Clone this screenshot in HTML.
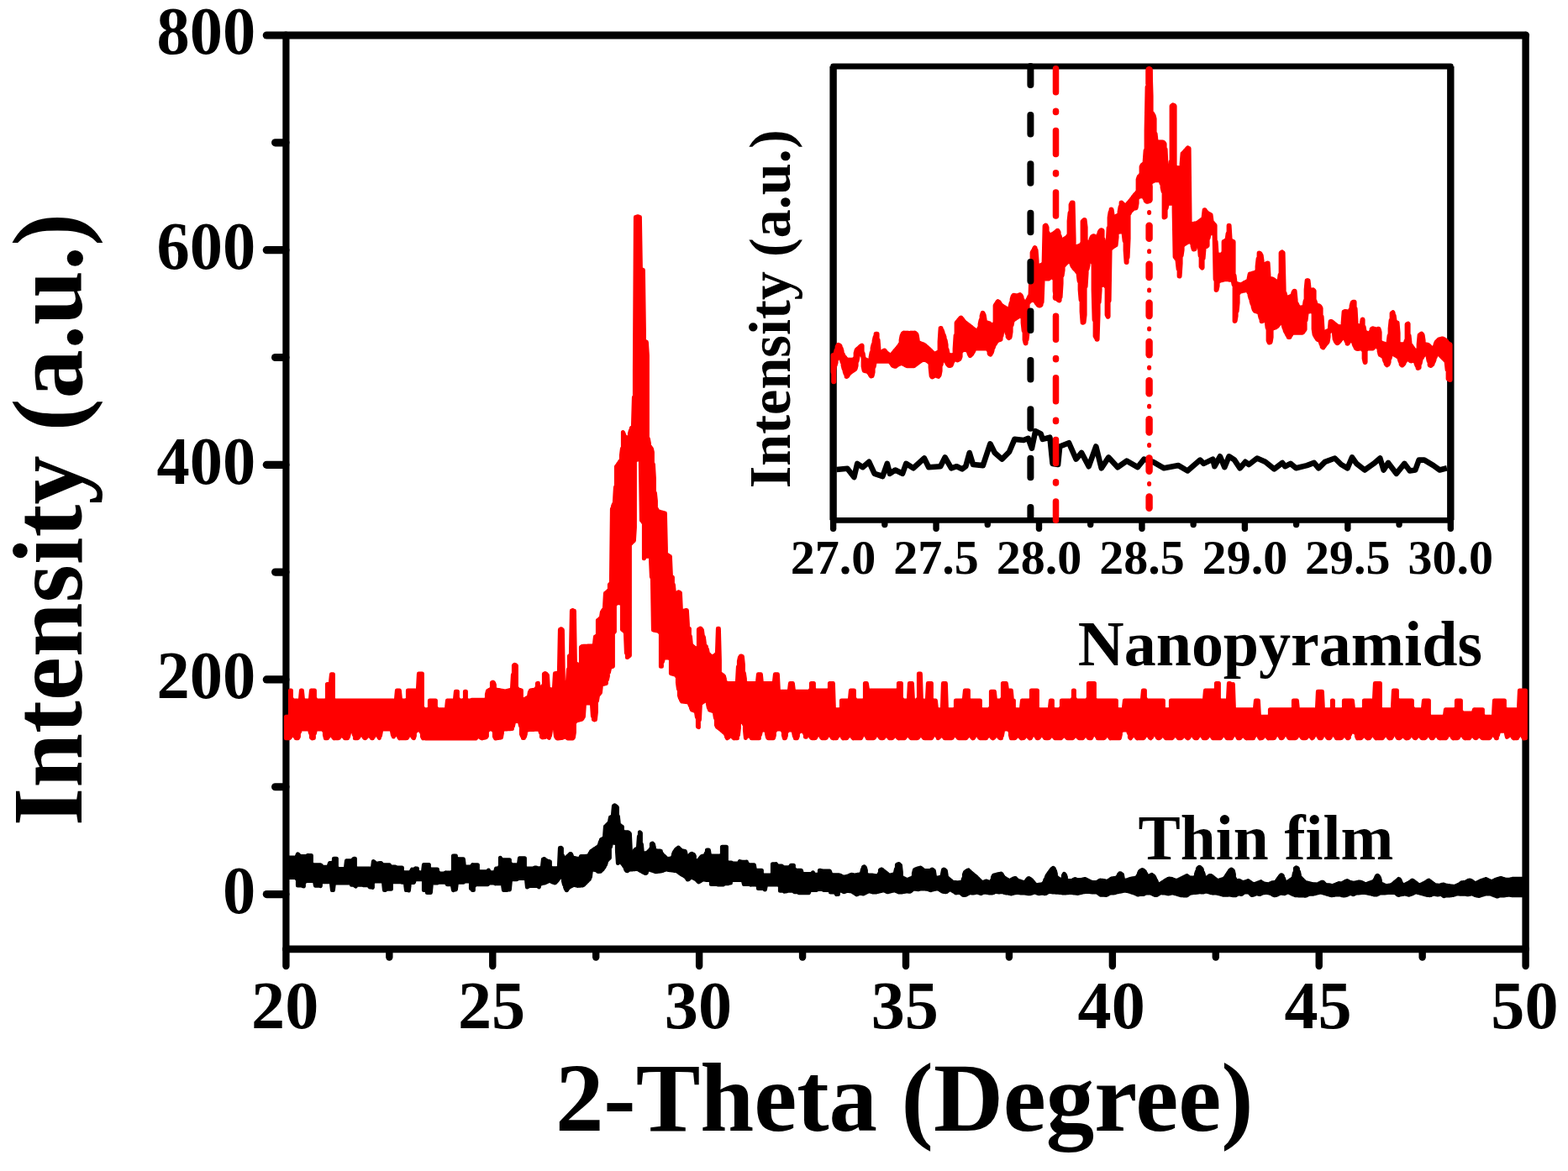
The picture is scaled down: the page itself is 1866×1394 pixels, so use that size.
<!DOCTYPE html>
<html lang="en"><head><meta charset="utf-8"><title>XRD pattern: Nanopyramids vs Thin film</title>
<style>html,body{margin:0;padding:0;background:#fff;}body{width:1866px;height:1394px;overflow:hidden;}svg{display:block;}text{font-family:"Liberation Serif",serif;font-weight:bold;fill:#000;}</style>
</head><body>
<svg width="1866" height="1394" viewBox="0 0 1866 1394" role="img" aria-label="XRD patterns of nanopyramids and thin film, with inset from 27 to 30 degrees">
<rect x="0" y="0" width="1866" height="1394" fill="#fff"/>
<g stroke="#000" stroke-width="8.40" fill="none" stroke-linecap="round" stroke-linejoin="round">
<line x1="340.40" y1="42.00" x2="1815.60" y2="42.00" stroke-width="9.0"/>
<line x1="340.40" y1="1129.80" x2="1815.60" y2="1129.80" stroke-width="8.8"/>
<line x1="340.40" y1="42.00" x2="340.40" y2="1129.80" stroke-width="8.2"/>
<line x1="1815.60" y1="42.00" x2="1815.60" y2="1129.80" stroke-width="8.4"/>
</g>
<g stroke="#000" stroke-width="9.2" fill="none" stroke-linecap="round">
<line x1="317.30" y1="1064.60" x2="339.90" y2="1064.60"/>
<line x1="327.60" y1="936.77" x2="339.90" y2="936.77"/>
<line x1="317.30" y1="808.95" x2="339.90" y2="808.95"/>
<line x1="327.60" y1="681.12" x2="339.90" y2="681.12"/>
<line x1="317.30" y1="553.30" x2="339.90" y2="553.30"/>
<line x1="327.60" y1="425.48" x2="339.90" y2="425.48"/>
<line x1="317.30" y1="297.65" x2="339.90" y2="297.65"/>
<line x1="327.60" y1="169.83" x2="339.90" y2="169.83"/>
<line x1="317.30" y1="42.00" x2="339.90" y2="42.00"/>
</g>
<g stroke="#000" stroke-width="8.4" fill="none" stroke-linecap="round">
<line x1="340.40" y1="1130.30" x2="340.40" y2="1150.00"/>
<line x1="463.33" y1="1130.30" x2="463.33" y2="1139.50"/>
<line x1="586.27" y1="1130.30" x2="586.27" y2="1150.00"/>
<line x1="709.20" y1="1130.30" x2="709.20" y2="1139.50"/>
<line x1="832.13" y1="1130.30" x2="832.13" y2="1150.00"/>
<line x1="955.07" y1="1130.30" x2="955.07" y2="1139.50"/>
<line x1="1078.00" y1="1130.30" x2="1078.00" y2="1150.00"/>
<line x1="1200.93" y1="1130.30" x2="1200.93" y2="1139.50"/>
<line x1="1323.87" y1="1130.30" x2="1323.87" y2="1150.00"/>
<line x1="1446.80" y1="1130.30" x2="1446.80" y2="1139.50"/>
<line x1="1569.73" y1="1130.30" x2="1569.73" y2="1150.00"/>
<line x1="1692.67" y1="1130.30" x2="1692.67" y2="1139.50"/>
<line x1="1815.60" y1="1130.30" x2="1815.60" y2="1150.00"/>
</g>
<path d="M340.4,853.3L340.4,878.8L341.4,878.8L341.4,853.3L342.4,853.3L342.4,878.8L343.4,878.8L343.4,853.2L344.4,852.5L344.4,878.8L345.4,877.8L345.4,822.1L346.4,822.1L346.4,876.2L347.4,875.3L347.4,832.1L348.4,833.6L348.4,875.0L349.4,875.1L349.4,833.9L350.4,833.9L350.4,875.7L351.4,877.3L351.4,833.9L352.4,833.9L352.4,878.8L353.4,878.8L353.4,833.9L354.4,833.9L354.4,878.8L355.4,877.0L355.4,833.9L356.4,833.8L356.4,871.6L357.4,868.9L357.4,833.1L358.4,822.1L358.4,868.2L359.4,868.1L359.4,822.1L360.4,832.1L360.4,868.1L361.4,868.1L361.4,833.6L362.4,833.9L362.4,868.1L363.4,868.1L363.4,833.9L364.4,833.9L364.4,868.1L365.4,868.1L365.4,833.9L366.4,833.9L366.4,868.1L367.4,868.2L367.4,833.9L368.4,833.7L368.4,868.9L369.4,872.6L369.4,832.8L370.4,822.1L370.4,877.9L371.4,878.8L371.4,822.1L372.4,822.1L372.4,878.8L373.4,878.6L373.4,822.1L374.4,822.1L374.4,873.2L375.4,869.2L375.4,832.1L376.4,833.6L376.4,868.3L377.4,868.1L377.4,833.9L378.4,833.9L378.4,868.1L379.4,868.1L379.4,833.9L380.4,833.9L380.4,868.1L381.4,868.1L381.4,833.9L382.4,833.9L382.4,868.1L383.4,868.1L383.4,833.9L384.4,833.9L384.4,868.4L385.4,869.9L385.4,833.9L386.4,833.9L386.4,874.9L387.4,878.8L387.4,833.8L388.4,833.1L388.4,878.8L389.4,878.8L389.4,814.6L390.4,814.6L390.4,877.7L391.4,876.2L391.4,814.6L392.4,814.2L392.4,875.3L393.4,875.0L393.4,812.8L394.4,802.7L394.4,875.3L395.4,876.0L395.4,802.7L396.4,802.7L396.4,877.5L397.4,878.8L397.4,833.1L398.4,833.8L398.4,878.8L399.4,878.8L399.4,833.9L400.4,833.9L400.4,878.8L401.4,878.8L401.4,833.9L402.4,833.9L402.4,878.8L403.4,878.4L403.4,833.9L404.4,833.9L404.4,877.1L405.4,876.1L405.4,833.9L406.4,833.9L406.4,875.7L407.4,875.8L407.4,833.9L408.4,833.9L408.4,876.3L409.4,877.5L409.4,833.9L410.4,833.9L410.4,878.7L411.4,878.8L411.4,833.9L412.4,833.9L412.4,878.8L413.4,878.8L413.4,833.9L414.4,833.9L414.4,877.5L415.4,873.2L415.4,833.9L416.4,833.9L416.4,870.9L417.4,870.3L417.4,833.9L418.4,833.9L418.4,870.2L419.4,870.5L419.4,833.9L420.4,833.9L420.4,871.4L421.4,874.8L421.4,833.9L422.4,833.9L422.4,878.8L423.4,878.8L423.4,833.9L424.4,833.9L424.4,878.8L425.4,878.8L425.4,833.9L426.4,833.9L426.4,878.1L427.4,876.4L427.4,833.9L428.4,833.9L428.4,874.9L429.4,874.4L429.4,833.9L430.4,833.9L430.4,874.4L431.4,874.9L431.4,833.9L432.4,833.9L432.4,876.3L433.4,878.1L433.4,833.9L434.4,833.9L434.4,878.8L435.4,878.3L435.4,833.9L436.4,833.9L436.4,877.0L437.4,875.8L437.4,833.9L438.4,833.9L438.4,875.5L439.4,875.6L439.4,833.9L440.4,833.9L440.4,876.1L441.4,877.3L441.4,833.9L442.4,833.9L442.4,878.7L443.4,878.8L443.4,833.9L444.4,833.9L444.4,877.5L445.4,875.8L445.4,833.9L446.4,833.9L446.4,874.8L447.4,874.4L447.4,833.9L448.4,833.9L448.4,874.6L449.4,875.2L449.4,833.9L450.4,833.9L450.4,876.9L451.4,878.6L451.4,833.9L452.4,833.9L452.4,876.1L453.4,870.7L453.4,833.9L454.4,833.9L454.4,868.6L455.4,868.1L455.4,833.9L456.4,833.9L456.4,868.1L457.4,868.1L457.4,833.9L458.4,833.9L458.4,868.1L459.4,868.1L459.4,833.9L460.4,833.9L460.4,868.1L461.4,868.1L461.4,833.9L462.4,833.9L462.4,868.1L463.4,868.1L463.4,833.9L464.4,833.9L464.4,868.1L465.4,868.6L465.4,833.9L466.4,833.9L466.4,870.0L467.4,875.4L467.4,833.9L468.4,833.9L468.4,877.0L469.4,875.2L469.4,833.9L470.4,833.8L470.4,874.2L471.4,874.0L471.4,833.1L472.4,822.1L472.4,874.2L473.4,875.2L473.4,822.1L474.4,822.1L474.4,877.0L475.4,878.8L475.4,822.1L476.4,832.1L476.4,878.8L477.4,878.8L477.4,833.6L478.4,833.9L478.4,878.8L479.4,878.8L479.4,833.9L480.4,833.9L480.4,878.8L481.4,878.8L481.4,833.9L482.4,833.9L482.4,878.8L483.4,878.8L483.4,833.7L484.4,832.8L484.4,878.5L485.4,876.9L485.4,822.1L486.4,822.1L486.4,875.5L487.4,874.8L487.4,822.1L488.4,822.1L488.4,874.7L489.4,875.1L489.4,822.1L490.4,822.1L490.4,876.3L491.4,877.9L491.4,822.1L492.4,822.1L492.4,878.8L493.4,876.0L493.4,822.1L494.4,822.1L494.4,871.1L495.4,869.7L495.4,822.1L496.4,821.9L496.4,869.2L497.4,869.1L497.4,820.9L498.4,802.1L498.4,869.1L499.4,869.2L499.4,802.1L500.4,802.1L500.4,869.7L501.4,871.8L501.4,802.1L502.4,802.1L502.4,876.6L503.4,878.8L503.4,842.9L504.4,844.3L504.4,878.8L505.4,878.8L505.4,844.7L506.4,844.7L506.4,878.9L507.4,878.9L507.4,844.7L508.4,844.7L508.4,878.9L509.4,878.9L509.4,844.5L510.4,843.5L510.4,878.9L511.4,878.9L511.4,833.9L512.4,833.9L512.4,878.9L513.4,878.9L513.4,833.9L514.4,833.9L514.4,878.9L515.4,878.9L515.4,833.9L516.4,833.9L516.4,878.9L517.4,878.9L517.4,833.9L518.4,833.9L518.4,878.9L519.4,878.9L519.4,842.9L520.4,844.3L520.4,878.9L521.4,878.9L521.4,844.7L522.4,844.7L522.4,878.9L523.4,878.9L523.4,844.7L524.4,844.7L524.4,878.9L525.4,878.9L525.4,844.7L526.4,844.7L526.4,878.9L527.4,878.9L527.4,844.7L528.4,844.7L528.4,878.9L529.4,878.9L529.4,844.7L530.4,844.6L530.4,878.9L531.4,879.0L531.4,844.1L532.4,833.9L532.4,879.0L533.4,879.0L533.4,833.9L534.4,833.9L534.4,879.0L535.4,879.0L535.4,833.9L536.4,833.9L536.4,879.0L537.4,879.0L537.4,833.9L538.4,833.9L538.4,879.0L539.4,879.0L539.4,833.9L540.4,833.8L540.4,879.0L541.4,879.0L541.4,833.1L542.4,823.2L542.4,879.0L543.4,879.0L543.4,823.2L544.4,823.2L544.4,879.0L545.4,879.0L545.4,832.1L546.4,833.6L546.4,879.0L547.4,879.0L547.4,833.9L548.4,833.9L548.4,879.0L549.4,879.0L549.4,833.9L550.4,833.9L550.4,879.0L551.4,879.0L551.4,833.7L552.4,832.8L552.4,879.0L553.4,879.0L553.4,823.2L554.4,823.2L554.4,879.0L555.4,879.0L555.4,833.1L556.4,833.8L556.4,879.1L557.4,879.1L557.4,833.9L558.4,833.9L558.4,879.1L559.4,879.1L559.4,833.9L560.4,833.8L560.4,879.1L561.4,879.1L561.4,833.3L562.4,833.3L562.4,879.1L563.4,879.1L563.4,833.3L564.4,833.3L564.4,879.1L565.4,879.1L565.4,833.3L566.4,833.3L566.4,878.9L567.4,877.3L567.4,833.3L568.4,833.3L568.4,876.7L569.4,876.6L569.4,833.3L570.4,833.3L570.4,876.9L571.4,877.6L571.4,833.3L572.4,833.3L572.4,878.3L573.4,878.9L573.4,833.3L574.4,833.3L574.4,878.7L575.4,878.4L575.4,833.3L576.4,833.3L576.4,878.2L577.4,878.0L577.4,833.2L578.4,832.5L578.4,877.7L579.4,876.5L579.4,826.7L580.4,822.5L580.4,869.9L581.4,868.5L581.4,821.7L582.4,821.3L582.4,868.1L583.4,868.1L583.4,820.9L584.4,820.0L584.4,868.1L585.4,868.1L585.4,812.6L586.4,812.2L586.4,868.5L587.4,869.9L587.4,812.5L588.4,815.2L588.4,876.7L589.4,878.8L589.4,820.3L590.4,821.0L590.4,878.9L591.4,878.7L591.4,821.2L592.4,821.4L592.4,878.6L593.4,878.5L593.4,821.5L594.4,821.7L594.4,878.3L595.4,878.2L595.4,821.9L596.4,822.1L596.4,878.1L597.4,872.7L597.4,822.3L598.4,822.5L598.4,868.9L599.4,868.2L599.4,822.7L600.4,822.9L600.4,868.1L601.4,868.0L601.4,823.0L602.4,822.8L602.4,868.0L603.4,867.9L603.4,822.5L604.4,822.2L604.4,867.8L605.4,867.8L605.4,821.9L606.4,821.6L606.4,867.7L607.4,867.7L607.4,821.3L608.4,821.0L608.4,867.6L609.4,867.6L609.4,820.3L610.4,803.2L610.4,864.6L611.4,860.2L611.4,792.1L612.4,791.3L612.4,858.8L613.4,858.4L613.4,791.5L614.4,792.5L614.4,858.4L615.4,858.4L615.4,819.3L616.4,820.7L616.4,858.4L617.4,858.5L617.4,821.1L618.4,821.4L618.4,859.2L619.4,863.9L619.4,821.6L620.4,821.9L620.4,873.9L621.4,876.4L621.4,831.4L622.4,832.4L622.4,878.4L623.4,878.4L623.4,832.6L624.4,832.4L624.4,877.2L625.4,873.5L625.4,831.8L626.4,831.2L626.4,870.0L627.4,869.1L627.4,830.7L628.4,830.1L628.4,868.7L629.4,868.7L629.4,829.4L630.4,823.8L630.4,868.6L631.4,868.6L631.4,821.9L632.4,821.7L632.4,868.5L633.4,868.5L633.4,821.5L634.4,821.4L634.4,868.4L635.4,868.4L635.4,821.2L636.4,821.0L636.4,868.3L637.4,868.3L637.4,820.7L638.4,819.2L638.4,868.2L639.4,868.2L639.4,813.4L640.4,813.3L640.4,868.1L641.4,868.2L641.4,816.6L642.4,820.3L642.4,868.9L643.4,872.2L643.4,820.8L644.4,820.8L644.4,877.2L645.4,877.8L645.4,820.3L646.4,816.0L646.4,877.8L647.4,877.8L647.4,802.2L648.4,801.7L648.4,877.5L649.4,876.7L649.4,801.8L650.4,802.5L650.4,876.5L651.4,876.7L651.4,803.7L652.4,819.3L652.4,877.6L653.4,878.4L653.4,820.2L654.4,820.5L654.4,876.1L655.4,870.1L655.4,820.7L656.4,820.9L656.4,866.6L657.4,865.9L657.4,821.0L658.4,820.8L658.4,865.8L659.4,866.2L659.4,819.9L660.4,801.8L660.4,867.6L661.4,876.6L661.4,801.6L662.4,801.3L662.4,878.4L663.4,878.9L663.4,801.1L664.4,800.7L664.4,878.9L665.4,878.8L665.4,799.3L666.4,749.6L666.4,878.7L667.4,878.6L667.4,748.7L668.4,749.0L668.4,878.5L669.4,878.3L669.4,750.0L670.4,810.9L670.4,877.8L671.4,877.3L671.4,811.8L672.4,812.2L672.4,877.2L673.4,877.4L673.4,812.6L674.4,812.4L674.4,878.1L675.4,878.9L675.4,811.8L676.4,796.7L676.4,879.1L677.4,879.1L677.4,780.9L678.4,780.3L678.4,879.1L679.4,879.1L679.4,779.3L680.4,727.0L680.4,879.1L681.4,879.1L681.4,726.5L682.4,726.8L682.4,878.0L683.4,871.8L683.4,727.2L684.4,788.4L684.4,859.6L685.4,858.1L685.4,789.9L686.4,790.5L686.4,857.7L687.4,857.5L687.4,791.2L688.4,791.4L688.4,857.2L689.4,857.0L689.4,791.2L690.4,790.3L690.4,856.7L691.4,856.5L691.4,770.4L692.4,769.6L692.4,856.2L693.4,855.0L693.4,769.4L694.4,769.3L694.4,853.3L695.4,838.9L695.4,769.3L696.4,769.2L696.4,837.5L697.4,837.1L697.4,769.2L698.4,769.2L698.4,837.1L699.4,837.1L699.4,769.1L700.4,769.1L700.4,837.1L701.4,837.1L701.4,769.0L702.4,769.0L702.4,837.1L703.4,837.2L703.4,768.9L704.4,768.9L704.4,837.9L705.4,852.7L705.4,768.8L706.4,768.5L706.4,856.5L707.4,856.9L707.4,767.0L708.4,758.1L708.4,856.6L709.4,847.7L709.4,757.6L710.4,756.7L710.4,834.5L711.4,828.6L711.4,738.5L712.4,737.7L712.4,827.0L713.4,825.8L713.4,736.8L714.4,735.9L714.4,824.6L715.4,816.3L715.4,734.9L716.4,728.5L716.4,814.9L717.4,814.5L717.4,726.9L718.4,725.7L718.4,814.3L719.4,814.0L719.4,724.5L720.4,706.3L720.4,813.8L721.4,813.6L721.4,705.4L722.4,704.6L722.4,809.3L723.4,804.9L723.4,703.7L724.4,702.7L724.4,800.6L725.4,796.3L725.4,696.0L726.4,694.9L726.4,794.4L727.4,793.9L727.4,694.3L728.4,605.7L728.4,793.6L729.4,793.3L729.4,602.9L730.4,600.1L730.4,753.0L731.4,751.9L731.4,597.3L732.4,580.1L732.4,719.6L733.4,718.1L733.4,555.5L734.4,554.1L734.4,717.8L735.4,717.8L735.4,552.7L736.4,551.3L736.4,717.8L737.4,717.8L737.4,549.8L738.4,548.4L738.4,717.9L739.4,718.6L739.4,542.0L740.4,534.0L740.4,749.3L741.4,750.2L741.4,514.4L742.4,516.7L742.4,751.0L743.4,751.9L743.4,518.9L744.4,520.8L744.4,752.9L745.4,777.4L745.4,521.5L746.4,521.6L746.4,782.6L747.4,782.0L747.4,521.2L748.4,519.8L748.4,781.2L749.4,780.3L749.4,516.1L750.4,512.4L750.4,647.5L751.4,646.5L751.4,509.2L752.4,508.8L752.4,645.6L753.4,644.6L753.4,508.2L754.4,473.0L754.4,643.6L755.4,627.9L755.4,440.1L756.4,258.5L756.4,548.2L757.4,547.3L757.4,258.1L758.4,257.8L758.4,547.1L759.4,547.1L759.4,257.7L760.4,258.1L760.4,547.1L761.4,547.6L761.4,258.4L762.4,319.5L762.4,553.6L763.4,619.4L763.4,320.4L764.4,320.9L764.4,620.4L765.4,622.0L765.4,321.5L766.4,392.2L766.4,664.8L767.4,663.0L767.4,406.1L768.4,406.7L768.4,662.4L769.4,662.2L769.4,407.3L770.4,423.2L770.4,662.2L771.4,662.2L771.4,522.2L772.4,527.6L772.4,662.3L773.4,662.6L773.4,531.4L774.4,532.8L774.4,664.1L775.4,687.0L775.4,534.1L776.4,538.4L776.4,688.5L777.4,749.9L777.4,552.7L778.4,569.4L778.4,750.2L779.4,750.4L779.4,586.7L780.4,596.2L780.4,750.6L781.4,750.8L781.4,605.7L782.4,608.2L782.4,751.1L783.4,751.3L783.4,608.7L784.4,609.0L784.4,751.7L785.4,753.1L785.4,609.3L786.4,609.6L786.4,793.3L787.4,793.3L787.4,609.9L788.4,610.2L788.4,788.0L789.4,783.8L789.4,610.5L790.4,610.8L790.4,783.1L791.4,783.0L791.4,611.1L792.4,653.4L792.4,783.0L793.4,783.0L793.4,660.0L794.4,660.6L794.4,783.0L795.4,783.0L795.4,661.2L796.4,661.8L796.4,783.2L797.4,784.1L797.4,662.4L798.4,685.1L798.4,801.7L799.4,802.0L799.4,686.6L800.4,687.0L800.4,802.2L801.4,802.5L801.4,696.1L802.4,705.9L802.4,802.8L803.4,803.1L803.4,706.6L804.4,706.7L804.4,803.6L805.4,805.0L805.4,706.3L806.4,705.6L806.4,812.6L807.4,820.2L807.4,704.8L808.4,704.9L808.4,827.8L809.4,831.1L809.4,705.7L810.4,726.3L810.4,833.3L811.4,834.9L811.4,727.3L812.4,727.5L812.4,835.1L813.4,835.2L813.4,727.3L814.4,727.0L814.4,835.3L815.4,835.4L815.4,726.6L816.4,726.4L816.4,835.6L817.4,835.7L817.4,726.7L818.4,743.4L818.4,835.8L819.4,836.2L819.4,747.7L820.4,748.5L820.4,837.5L821.4,840.1L821.4,757.4L822.4,767.5L822.4,842.8L823.4,845.0L823.4,768.4L824.4,769.3L824.4,845.4L825.4,845.8L825.4,770.1L826.4,771.0L826.4,846.2L827.4,846.6L827.4,771.8L828.4,772.0L828.4,847.3L829.4,853.8L829.4,771.8L830.4,770.8L830.4,865.1L831.4,865.7L831.4,749.2L832.4,748.6L832.4,857.1L833.4,838.4L833.4,748.0L834.4,748.5L834.4,837.1L835.4,836.4L835.4,749.9L836.4,757.4L836.4,835.8L837.4,835.1L837.4,758.3L838.4,766.0L838.4,834.5L839.4,834.1L839.4,769.0L840.4,769.6L840.4,834.2L841.4,834.9L841.4,772.7L842.4,777.8L842.4,838.0L843.4,842.8L843.4,778.7L844.4,779.6L844.4,845.1L845.4,845.5L845.4,780.4L846.4,781.2L846.4,845.8L847.4,846.1L847.4,781.6L848.4,781.6L848.4,846.5L849.4,846.9L849.4,781.1L850.4,780.3L850.4,848.3L851.4,855.0L851.4,779.5L852.4,778.6L852.4,863.0L853.4,865.4L853.4,777.8L854.4,748.3L854.4,866.1L855.4,866.9L855.4,748.2L856.4,785.9L856.4,867.6L857.4,868.5L857.4,801.8L858.4,802.5L858.4,869.3L859.4,870.1L859.4,803.2L860.4,803.9L860.4,871.0L861.4,871.8L861.4,804.7L862.4,808.4L862.4,872.6L863.4,874.0L863.4,811.8L864.4,813.2L864.4,876.9L865.4,878.8L865.4,813.5L866.4,813.5L866.4,878.2L867.4,877.1L867.4,813.5L868.4,813.5L868.4,876.2L869.4,876.0L869.4,813.5L870.4,813.5L870.4,876.2L871.4,876.9L871.4,813.5L872.4,813.5L872.4,878.0L873.4,878.8L873.4,813.5L874.4,813.5L874.4,878.8L875.4,878.8L875.4,813.5L876.4,813.2L876.4,878.8L877.4,878.8L877.4,811.7L878.4,793.7L878.4,875.3L879.4,866.9L879.4,787.0L880.4,782.5L880.4,860.3L881.4,858.8L881.4,781.0L882.4,780.9L882.4,858.4L883.4,858.6L883.4,781.6L884.4,791.2L884.4,859.2L885.4,862.2L885.4,801.3L886.4,808.0L886.4,868.8L887.4,878.4L887.4,812.4L888.4,813.3L888.4,877.1L889.4,876.0L889.4,813.5L890.4,813.5L890.4,875.7L891.4,875.8L891.4,813.5L892.4,813.5L892.4,876.3L893.4,877.5L893.4,813.5L894.4,813.5L894.4,878.8L895.4,878.8L895.4,813.5L896.4,813.5L896.4,878.8L897.4,878.8L897.4,813.5L898.4,813.5L898.4,878.8L899.4,878.8L899.4,813.5L900.4,813.3L900.4,878.8L901.4,878.8L901.4,812.4L902.4,802.7L902.4,878.8L903.4,878.8L903.4,802.7L904.4,802.7L904.4,874.9L905.4,870.6L905.4,802.7L906.4,812.9L906.4,869.5L907.4,869.2L907.4,813.4L908.4,813.5L908.4,869.1L909.4,869.1L909.4,813.5L910.4,813.5L910.4,869.3L911.4,870.0L911.4,813.5L912.4,813.5L912.4,872.9L913.4,877.7L913.4,813.5L914.4,813.5L914.4,878.8L915.4,878.8L915.4,813.5L916.4,813.5L916.4,878.8L917.4,878.8L917.4,813.5L918.4,813.5L918.4,878.8L919.4,878.8L919.4,813.5L920.4,813.1L920.4,878.8L921.4,875.4L921.4,811.7L922.4,802.7L922.4,870.0L923.4,868.5L923.4,802.7L924.4,802.7L924.4,868.1L925.4,868.1L925.4,802.7L926.4,822.4L926.4,868.1L927.4,868.1L927.4,823.1L928.4,823.2L928.4,868.1L929.4,868.1L929.4,823.2L930.4,823.2L930.4,868.6L931.4,870.0L931.4,823.2L932.4,823.2L932.4,875.4L933.4,878.8L933.4,823.2L934.4,823.2L934.4,878.8L935.4,875.8L935.4,823.2L936.4,823.2L936.4,871.0L937.4,869.5L937.4,823.2L938.4,823.0L938.4,869.2L939.4,869.1L939.4,822.0L940.4,813.5L940.4,869.1L941.4,869.1L941.4,813.5L942.4,813.5L942.4,869.2L943.4,869.7L943.4,813.5L944.4,822.0L944.4,871.5L945.4,876.4L945.4,823.0L946.4,823.2L946.4,878.8L947.4,878.8L947.4,823.2L948.4,823.2L948.4,878.8L949.4,876.3L949.4,823.2L950.4,823.2L950.4,872.0L951.4,870.6L951.4,823.2L952.4,823.2L952.4,870.2L953.4,870.2L953.4,823.2L954.4,823.2L954.4,870.2L955.4,870.3L955.4,823.2L956.4,823.2L956.4,870.8L957.4,872.9L957.4,823.2L958.4,823.2L958.4,877.2L959.4,877.3L959.4,823.2L960.4,823.2L960.4,875.8L961.4,875.1L961.4,823.2L962.4,823.2L962.4,875.0L963.4,875.4L963.4,822.8L964.4,821.4L964.4,876.5L965.4,878.0L965.4,813.5L966.4,813.5L966.4,878.8L967.4,878.8L967.4,813.5L968.4,813.5L968.4,878.8L969.4,878.8L969.4,821.3L970.4,822.0L970.4,878.4L971.4,876.7L971.4,822.1L972.4,822.1L972.4,875.1L973.4,874.4L973.4,822.1L974.4,822.1L974.4,874.3L975.4,874.7L975.4,822.1L976.4,822.1L976.4,875.9L977.4,877.7L977.4,822.1L978.4,822.1L978.4,878.8L979.4,878.8L979.4,822.1L980.4,822.1L980.4,878.8L981.4,878.8L981.4,822.1L982.4,822.1L982.4,878.8L983.4,878.1L983.4,822.1L984.4,822.1L984.4,876.4L985.4,875.2L985.4,822.0L986.4,821.3L986.4,874.9L987.4,874.9L987.4,813.5L988.4,813.5L988.4,875.4L989.4,876.8L989.4,813.5L990.4,813.5L990.4,878.4L991.4,878.8L991.4,813.5L992.4,844.1L992.4,878.8L993.4,878.8L993.4,844.6L994.4,844.7L994.4,878.8L995.4,878.8L995.4,844.7L996.4,844.7L996.4,877.2L997.4,875.6L997.4,844.7L998.4,844.7L998.4,875.0L999.4,874.8L999.4,844.6L1000.4,843.9L1000.4,875.0L1001.4,875.9L1001.4,833.9L1002.4,833.9L1002.4,877.6L1003.4,878.8L1003.4,833.9L1004.4,833.9L1004.4,878.8L1005.4,878.8L1005.4,833.9L1006.4,833.9L1006.4,878.8L1007.4,878.8L1007.4,833.9L1008.4,833.9L1008.4,877.8L1009.4,876.5L1009.4,833.9L1010.4,833.7L1010.4,875.6L1011.4,875.4L1011.4,832.8L1012.4,822.1L1012.4,875.6L1013.4,876.5L1013.4,822.1L1014.4,822.1L1014.4,877.8L1015.4,878.8L1015.4,822.1L1016.4,822.1L1016.4,878.8L1017.4,878.8L1017.4,832.1L1018.4,833.6L1018.4,878.8L1019.4,878.8L1019.4,833.9L1020.4,833.9L1020.4,878.8L1021.4,878.8L1021.4,833.9L1022.4,833.9L1022.4,878.8L1023.4,878.8L1023.4,833.9L1024.4,833.9L1024.4,878.8L1025.4,877.0L1025.4,833.9L1026.4,833.9L1026.4,875.1L1027.4,874.2L1027.4,833.8L1028.4,833.1L1028.4,874.0L1029.4,874.2L1029.4,813.5L1030.4,813.5L1030.4,875.1L1031.4,877.0L1031.4,813.5L1032.4,820.3L1032.4,878.8L1033.4,878.8L1033.4,821.7L1034.4,822.1L1034.4,878.8L1035.4,878.8L1035.4,822.1L1036.4,822.1L1036.4,878.8L1037.4,878.8L1037.4,822.1L1038.4,822.1L1038.4,878.8L1039.4,878.8L1039.4,822.1L1040.4,822.1L1040.4,878.2L1041.4,876.6L1041.4,822.1L1042.4,822.1L1042.4,875.1L1043.4,874.6L1043.4,822.1L1044.4,822.1L1044.4,874.6L1045.4,875.1L1045.4,822.1L1046.4,822.1L1046.4,876.4L1047.4,878.1L1047.4,822.1L1048.4,822.1L1048.4,878.8L1049.4,878.8L1049.4,822.1L1050.4,822.1L1050.4,878.8L1051.4,878.4L1051.4,822.1L1052.4,822.1L1052.4,877.1L1053.4,876.0L1053.4,822.1L1054.4,822.1L1054.4,875.7L1055.4,875.7L1055.4,822.1L1056.4,822.1L1056.4,876.2L1057.4,877.4L1057.4,822.1L1058.4,822.1L1058.4,878.7L1059.4,878.8L1059.4,822.1L1060.4,822.1L1060.4,878.8L1061.4,878.8L1061.4,822.1L1062.4,822.1L1062.4,878.0L1063.4,876.9L1063.4,822.1L1064.4,822.1L1064.4,876.0L1065.4,875.8L1065.4,822.1L1066.4,822.1L1066.4,876.0L1067.4,876.9L1067.4,821.9L1068.4,820.9L1068.4,878.1L1069.4,878.8L1069.4,813.5L1070.4,813.5L1070.4,878.8L1071.4,878.8L1071.4,813.5L1072.4,813.5L1072.4,878.8L1073.4,878.8L1073.4,832.1L1074.4,833.6L1074.4,878.8L1075.4,878.8L1075.4,833.9L1076.4,833.9L1076.4,878.8L1077.4,877.5L1077.4,833.9L1078.4,833.9L1078.4,876.1L1079.4,875.4L1079.4,833.9L1080.4,833.7L1080.4,875.3L1081.4,875.5L1081.4,832.8L1082.4,813.5L1082.4,876.5L1083.4,877.9L1083.4,813.5L1084.4,813.5L1084.4,878.8L1085.4,878.8L1085.4,813.5L1086.4,832.8L1086.4,878.8L1087.4,878.8L1087.4,833.7L1088.4,833.9L1088.4,878.8L1089.4,878.8L1089.4,833.9L1090.4,833.9L1090.4,878.8L1091.4,878.8L1091.4,833.6L1092.4,832.1L1092.4,878.4L1093.4,877.0L1093.4,802.1L1094.4,802.1L1094.4,875.7L1095.4,875.2L1095.4,802.1L1096.4,833.1L1096.4,875.2L1097.4,875.7L1097.4,833.8L1098.4,833.9L1098.4,877.0L1099.4,878.4L1099.4,833.9L1100.4,833.9L1100.4,878.8L1101.4,878.8L1101.4,833.9L1102.4,833.9L1102.4,878.8L1103.4,878.8L1103.4,833.4L1104.4,813.5L1104.4,878.8L1105.4,878.8L1105.4,813.5L1106.4,813.5L1106.4,878.8L1107.4,878.8L1107.4,813.5L1108.4,813.5L1108.4,878.8L1109.4,877.4L1109.4,833.1L1110.4,833.8L1110.4,875.6L1111.4,874.7L1111.4,833.9L1112.4,833.9L1112.4,874.5L1113.4,874.6L1113.4,833.9L1114.4,843.5L1114.4,875.3L1115.4,876.9L1115.4,844.5L1116.4,844.7L1116.4,878.7L1117.4,878.1L1117.4,844.7L1118.4,844.7L1118.4,876.8L1119.4,875.9L1119.4,844.7L1120.4,844.3L1120.4,875.7L1121.4,875.8L1121.4,842.9L1122.4,813.5L1122.4,876.5L1123.4,877.7L1123.4,813.5L1124.4,813.5L1124.4,878.8L1125.4,878.8L1125.4,813.5L1126.4,843.5L1126.4,878.8L1127.4,878.8L1127.4,844.5L1128.4,844.7L1128.4,878.8L1129.4,878.8L1129.4,844.7L1130.4,844.7L1130.4,878.8L1131.4,878.8L1131.4,844.7L1132.4,844.7L1132.4,878.8L1133.4,878.1L1133.4,844.7L1134.4,844.7L1134.4,876.6L1135.4,875.5L1135.4,844.5L1136.4,843.5L1136.4,875.1L1137.4,875.2L1137.4,833.9L1138.4,833.9L1138.4,875.8L1139.4,877.2L1139.4,833.9L1140.4,833.9L1140.4,878.6L1141.4,878.8L1141.4,833.9L1142.4,833.9L1142.4,878.8L1143.4,878.8L1143.4,833.9L1144.4,833.9L1144.4,878.8L1145.4,878.8L1145.4,833.9L1146.4,833.6L1146.4,878.8L1147.4,878.8L1147.4,832.1L1148.4,822.1L1148.4,878.8L1149.4,878.8L1149.4,822.1L1150.4,822.1L1150.4,877.9L1151.4,876.5L1151.4,822.1L1152.4,822.1L1152.4,875.6L1153.4,875.3L1153.4,833.1L1154.4,833.8L1154.4,875.4L1155.4,876.1L1155.4,833.9L1156.4,833.9L1156.4,877.5L1157.4,878.8L1157.4,833.9L1158.4,833.9L1158.4,878.7L1159.4,877.1L1159.4,833.9L1160.4,833.9L1160.4,875.6L1161.4,874.9L1161.4,833.9L1162.4,833.9L1162.4,874.8L1163.4,875.1L1163.4,833.9L1164.4,833.9L1164.4,876.2L1165.4,877.8L1165.4,833.9L1166.4,833.9L1166.4,878.8L1167.4,878.8L1167.4,843.9L1168.4,844.6L1168.4,878.8L1169.4,878.8L1169.4,844.7L1170.4,844.7L1170.4,878.8L1171.4,878.8L1171.4,844.7L1172.4,844.7L1172.4,878.8L1173.4,878.8L1173.4,844.7L1174.4,844.7L1174.4,877.6L1175.4,876.3L1175.4,844.7L1176.4,844.7L1176.4,875.6L1177.4,875.5L1177.4,844.3L1178.4,842.9L1178.4,875.8L1179.4,876.8L1179.4,823.2L1180.4,823.2L1180.4,878.1L1181.4,878.8L1181.4,823.2L1182.4,823.2L1182.4,878.6L1183.4,877.2L1183.4,823.2L1184.4,832.8L1184.4,875.9L1185.4,875.4L1185.4,833.7L1186.4,833.9L1186.4,875.4L1187.4,875.9L1187.4,833.9L1188.4,833.9L1188.4,877.0L1189.4,878.3L1189.4,833.9L1190.4,833.9L1190.4,878.8L1191.4,878.8L1191.4,833.6L1192.4,832.1L1192.4,876.0L1193.4,870.6L1193.4,813.5L1194.4,813.5L1194.4,868.6L1195.4,868.1L1195.4,813.5L1196.4,813.5L1196.4,868.1L1197.4,868.1L1197.4,813.5L1198.4,820.9L1198.4,868.1L1199.4,868.1L1199.4,821.9L1200.4,822.1L1200.4,868.4L1201.4,869.9L1201.4,822.1L1202.4,822.1L1202.4,875.2L1203.4,878.8L1203.4,822.1L1204.4,833.4L1204.4,878.8L1205.4,878.8L1205.4,833.9L1206.4,833.9L1206.4,878.8L1207.4,878.8L1207.4,844.1L1208.4,844.6L1208.4,878.1L1209.4,876.9L1209.4,844.7L1210.4,844.7L1210.4,876.0L1211.4,875.8L1211.4,844.7L1212.4,844.7L1212.4,876.0L1213.4,876.7L1213.4,844.7L1214.4,844.6L1214.4,877.9L1215.4,878.8L1215.4,844.1L1216.4,833.9L1216.4,878.8L1217.4,878.8L1217.4,833.9L1218.4,833.9L1218.4,878.4L1219.4,877.2L1219.4,833.9L1220.4,833.9L1220.4,876.1L1221.4,875.8L1221.4,833.9L1222.4,833.9L1222.4,875.9L1223.4,876.5L1223.4,833.9L1224.4,833.9L1224.4,877.7L1225.4,878.8L1225.4,833.8L1226.4,833.1L1226.4,878.7L1227.4,876.9L1227.4,822.1L1228.4,822.1L1228.4,875.3L1229.4,874.6L1229.4,822.1L1230.4,822.1L1230.4,874.5L1231.4,874.8L1231.4,822.1L1232.4,822.1L1232.4,875.8L1233.4,877.5L1233.4,822.1L1234.4,822.1L1234.4,878.8L1235.4,878.8L1235.4,844.1L1236.4,844.6L1236.4,878.2L1237.4,876.6L1237.4,844.7L1238.4,844.7L1238.4,875.4L1239.4,875.0L1239.4,844.7L1240.4,844.7L1240.4,875.0L1241.4,875.5L1241.4,844.7L1242.4,844.7L1242.4,876.9L1243.4,878.4L1243.4,844.7L1244.4,844.7L1244.4,878.8L1245.4,878.8L1245.4,844.7L1246.4,844.7L1246.4,878.8L1247.4,878.8L1247.4,844.7L1248.4,844.3L1248.4,878.5L1249.4,877.2L1249.4,842.9L1250.4,833.9L1250.4,876.2L1251.4,875.7L1251.4,833.9L1252.4,833.9L1252.4,875.7L1253.4,876.2L1253.4,843.5L1254.4,844.5L1254.4,877.4L1255.4,878.6L1255.4,844.7L1256.4,844.7L1256.4,878.8L1257.4,878.8L1257.4,844.7L1258.4,844.7L1258.4,878.8L1259.4,878.8L1259.4,844.7L1260.4,844.7L1260.4,878.8L1261.4,878.8L1261.4,844.3L1262.4,842.9L1262.4,878.8L1263.4,878.0L1263.4,833.9L1264.4,833.9L1264.4,876.8L1265.4,875.9L1265.4,833.9L1266.4,833.9L1266.4,875.7L1267.4,875.9L1267.4,833.9L1268.4,833.9L1268.4,876.7L1269.4,878.0L1269.4,833.9L1270.4,833.9L1270.4,878.8L1271.4,878.8L1271.4,833.9L1272.4,833.9L1272.4,878.8L1273.4,878.8L1273.4,833.9L1274.4,833.9L1274.4,878.8L1275.4,878.8L1275.4,833.6L1276.4,832.1L1276.4,878.8L1277.4,877.8L1277.4,822.1L1278.4,822.1L1278.4,876.6L1279.4,875.9L1279.4,832.1L1280.4,833.6L1280.4,875.8L1281.4,876.1L1281.4,833.9L1282.4,833.9L1282.4,877.0L1283.4,878.2L1283.4,833.9L1284.4,833.9L1284.4,878.8L1285.4,878.8L1285.4,833.9L1286.4,833.9L1286.4,878.8L1287.4,878.8L1287.4,833.9L1288.4,833.9L1288.4,878.7L1289.4,877.4L1289.4,833.9L1290.4,833.9L1290.4,876.2L1291.4,875.7L1291.4,833.9L1292.4,833.9L1292.4,875.7L1293.4,876.0L1293.4,833.6L1294.4,832.1L1294.4,877.1L1295.4,878.4L1295.4,813.5L1296.4,813.5L1296.4,878.8L1297.4,878.8L1297.4,813.5L1298.4,813.5L1298.4,878.8L1299.4,877.1L1299.4,813.5L1300.4,813.5L1300.4,875.2L1301.4,874.3L1301.4,813.5L1302.4,813.5L1302.4,874.1L1303.4,874.3L1303.4,832.8L1304.4,833.7L1304.4,875.2L1305.4,876.9L1305.4,833.9L1306.4,833.9L1306.4,878.8L1307.4,878.8L1307.4,833.9L1308.4,833.9L1308.4,878.8L1309.4,878.8L1309.4,833.9L1310.4,833.9L1310.4,878.8L1311.4,878.8L1311.4,833.9L1312.4,833.9L1312.4,878.8L1313.4,878.8L1313.4,833.9L1314.4,833.9L1314.4,878.2L1315.4,876.8L1315.4,833.9L1316.4,833.9L1316.4,875.7L1317.4,875.4L1317.4,833.9L1318.4,833.9L1318.4,875.5L1319.4,876.2L1319.4,833.9L1320.4,833.9L1320.4,877.4L1321.4,878.8L1321.4,833.9L1322.4,833.9L1322.4,878.8L1323.4,878.8L1323.4,833.9L1324.4,833.9L1324.4,878.8L1325.4,878.8L1325.4,833.9L1326.4,833.9L1326.4,878.8L1327.4,878.8L1327.4,833.9L1328.4,833.9L1328.4,878.8L1329.4,878.8L1329.4,843.9L1330.4,844.6L1330.4,878.8L1331.4,878.8L1331.4,844.7L1332.4,844.7L1332.4,878.8L1333.4,874.2L1333.4,844.7L1334.4,844.7L1334.4,870.3L1335.4,869.4L1335.4,844.7L1336.4,844.3L1336.4,869.1L1337.4,869.1L1337.4,842.9L1338.4,833.9L1338.4,869.1L1339.4,869.1L1339.4,833.9L1340.4,833.9L1340.4,869.1L1341.4,869.3L1341.4,833.9L1342.4,833.9L1342.4,870.0L1343.4,872.8L1343.4,833.9L1344.4,833.9L1344.4,877.7L1345.4,878.8L1345.4,833.9L1346.4,833.9L1346.4,877.5L1347.4,876.1L1347.4,833.9L1348.4,833.9L1348.4,875.4L1349.4,875.3L1349.4,833.9L1350.4,833.9L1350.4,875.6L1351.4,876.5L1351.4,833.9L1352.4,833.9L1352.4,877.9L1353.4,878.8L1353.4,833.9L1354.4,833.9L1354.4,878.8L1355.4,878.8L1355.4,833.9L1356.4,833.9L1356.4,878.8L1357.4,878.8L1357.4,833.9L1358.4,833.8L1358.4,878.8L1359.4,878.8L1359.4,833.1L1360.4,822.1L1360.4,878.8L1361.4,878.3L1361.4,822.1L1362.4,822.1L1362.4,876.7L1363.4,875.2L1363.4,832.1L1364.4,833.6L1364.4,874.7L1365.4,874.7L1365.4,833.9L1366.4,833.9L1366.4,875.2L1367.4,876.6L1367.4,833.9L1368.4,833.9L1368.4,878.2L1369.4,878.8L1369.4,833.9L1370.4,833.9L1370.4,877.8L1371.4,875.9L1371.4,833.9L1372.4,833.9L1372.4,874.6L1373.4,874.1L1373.4,833.9L1374.4,833.9L1374.4,874.1L1375.4,874.6L1375.4,833.9L1376.4,833.9L1376.4,876.2L1377.4,878.1L1377.4,833.9L1378.4,833.9L1378.4,878.8L1379.4,878.8L1379.4,833.9L1380.4,833.9L1380.4,878.3L1381.4,877.0L1381.4,833.9L1382.4,833.9L1382.4,875.9L1383.4,875.6L1383.4,833.9L1384.4,833.9L1384.4,875.7L1385.4,876.2L1385.4,843.9L1386.4,844.6L1386.4,877.4L1387.4,878.7L1387.4,844.7L1388.4,844.7L1388.4,878.8L1389.4,878.8L1389.4,844.7L1390.4,844.7L1390.4,878.8L1391.4,878.8L1391.4,844.6L1392.4,844.1L1392.4,878.8L1393.4,878.8L1393.4,833.9L1394.4,833.9L1394.4,878.8L1395.4,878.2L1395.4,833.9L1396.4,833.9L1396.4,876.8L1397.4,875.7L1397.4,833.9L1398.4,833.9L1398.4,875.4L1399.4,875.5L1399.4,833.9L1400.4,833.9L1400.4,876.1L1401.4,877.4L1401.4,833.9L1402.4,833.9L1402.4,878.7L1403.4,878.8L1403.4,833.9L1404.4,833.9L1404.4,878.8L1405.4,878.8L1405.4,833.9L1406.4,833.9L1406.4,878.0L1407.4,876.9L1407.4,833.9L1408.4,833.9L1408.4,876.0L1409.4,875.8L1409.4,833.9L1410.4,833.9L1410.4,876.0L1411.4,876.9L1411.4,833.9L1412.4,833.9L1412.4,878.1L1413.4,878.8L1413.4,833.9L1414.4,833.9L1414.4,878.7L1415.4,877.2L1415.4,833.9L1416.4,833.9L1416.4,875.6L1417.4,874.9L1417.4,833.9L1418.4,833.9L1418.4,874.8L1419.4,875.2L1419.4,833.9L1420.4,833.9L1420.4,876.3L1421.4,877.8L1421.4,833.9L1422.4,833.9L1422.4,878.8L1423.4,878.8L1423.4,833.9L1424.4,833.9L1424.4,878.8L1425.4,877.4L1425.4,833.9L1426.4,833.9L1426.4,875.9L1427.4,875.0L1427.4,833.9L1428.4,833.9L1428.4,874.8L1429.4,875.0L1429.4,833.9L1430.4,833.9L1430.4,875.9L1431.4,877.5L1431.4,833.9L1432.4,833.9L1432.4,878.8L1433.4,878.8L1433.4,833.4L1434.4,822.1L1434.4,878.8L1435.4,878.8L1435.4,822.1L1436.4,822.1L1436.4,878.1L1437.4,876.6L1437.4,822.1L1438.4,822.1L1438.4,875.5L1439.4,875.1L1439.4,822.1L1440.4,822.1L1440.4,875.2L1441.4,875.8L1441.4,822.1L1442.4,822.1L1442.4,877.2L1443.4,878.7L1443.4,822.1L1444.4,822.1L1444.4,878.8L1445.4,878.8L1445.4,822.1L1446.4,821.5L1446.4,878.8L1447.4,878.8L1447.4,813.5L1448.4,813.5L1448.4,878.8L1449.4,878.8L1449.4,813.5L1450.4,813.5L1450.4,878.8L1451.4,878.8L1451.4,833.4L1452.4,833.9L1452.4,878.8L1453.4,877.5L1453.4,833.9L1454.4,833.9L1454.4,876.1L1455.4,875.3L1455.4,833.9L1456.4,833.9L1456.4,875.0L1457.4,875.3L1457.4,833.9L1458.4,833.9L1458.4,876.2L1459.4,877.7L1459.4,833.9L1460.4,833.9L1460.4,878.8L1461.4,878.8L1461.4,833.4L1462.4,813.5L1462.4,878.8L1463.4,878.8L1463.4,813.5L1464.4,813.8L1464.4,878.8L1465.4,878.8L1465.4,814.4L1466.4,814.6L1466.4,877.4L1467.4,875.6L1467.4,814.6L1468.4,842.9L1468.4,874.6L1469.4,874.4L1469.4,844.3L1470.4,844.7L1470.4,874.6L1471.4,875.2L1471.4,844.7L1472.4,844.7L1472.4,876.9L1473.4,878.7L1473.4,844.7L1474.4,844.7L1474.4,878.8L1475.4,878.8L1475.4,844.7L1476.4,844.7L1476.4,877.7L1477.4,876.4L1477.4,844.7L1478.4,844.7L1478.4,875.8L1479.4,875.7L1479.4,844.7L1480.4,844.7L1480.4,876.0L1481.4,877.0L1481.4,844.7L1482.4,844.7L1482.4,878.3L1483.4,878.8L1483.4,844.7L1484.4,844.7L1484.4,878.8L1485.4,878.8L1485.4,844.7L1486.4,844.7L1486.4,878.8L1487.4,878.8L1487.4,844.7L1488.4,844.7L1488.4,878.8L1489.4,878.8L1489.4,844.7L1490.4,844.7L1490.4,878.8L1491.4,878.8L1491.4,844.7L1492.4,844.6L1492.4,877.1L1493.4,875.4L1493.4,843.9L1494.4,833.9L1494.4,874.6L1495.4,874.4L1495.4,833.9L1496.4,833.9L1496.4,874.6L1497.4,875.6L1497.4,833.9L1498.4,851.5L1498.4,877.3L1499.4,878.8L1499.4,852.9L1500.4,853.3L1500.4,878.8L1501.4,878.8L1501.4,853.3L1502.4,853.3L1502.4,878.2L1503.4,876.9L1503.4,853.3L1504.4,853.3L1504.4,876.0L1505.4,875.6L1505.4,853.3L1506.4,853.3L1506.4,875.8L1507.4,876.4L1507.4,853.3L1508.4,853.3L1508.4,877.7L1509.4,878.8L1509.4,853.3L1510.4,852.7L1510.4,878.8L1511.4,878.8L1511.4,844.7L1512.4,844.7L1512.4,878.8L1513.4,878.8L1513.4,844.7L1514.4,844.7L1514.4,878.8L1515.4,878.8L1515.4,844.7L1516.4,844.7L1516.4,878.6L1517.4,876.8L1517.4,844.7L1518.4,844.7L1518.4,875.0L1519.4,874.3L1519.4,844.7L1520.4,844.7L1520.4,874.2L1521.4,874.6L1521.4,844.7L1522.4,844.7L1522.4,875.5L1523.4,877.3L1523.4,844.7L1524.4,844.7L1524.4,878.8L1525.4,878.8L1525.4,844.7L1526.4,844.7L1526.4,878.2L1527.4,876.3L1527.4,844.7L1528.4,844.7L1528.4,874.8L1529.4,874.3L1529.4,844.7L1530.4,844.7L1530.4,874.3L1531.4,874.7L1531.4,844.7L1532.4,844.7L1532.4,875.9L1533.4,877.8L1533.4,844.7L1534.4,844.7L1534.4,878.8L1535.4,878.8L1535.4,844.7L1536.4,844.7L1536.4,878.8L1537.4,878.8L1537.4,844.6L1538.4,843.9L1538.4,878.8L1539.4,878.8L1539.4,833.9L1540.4,833.9L1540.4,878.8L1541.4,878.8L1541.4,833.9L1542.4,833.9L1542.4,878.3L1543.4,876.8L1543.4,833.9L1544.4,844.1L1544.4,875.4L1545.4,874.9L1545.4,844.6L1546.4,844.7L1546.4,874.9L1547.4,875.4L1547.4,844.7L1548.4,844.7L1548.4,876.6L1549.4,878.2L1549.4,844.7L1550.4,844.7L1550.4,878.8L1551.4,878.8L1551.4,844.7L1552.4,844.7L1552.4,878.8L1553.4,878.8L1553.4,844.7L1554.4,844.7L1554.4,878.4L1555.4,877.2L1555.4,844.7L1556.4,844.7L1556.4,876.2L1557.4,875.8L1557.4,844.7L1558.4,844.7L1558.4,876.0L1559.4,876.5L1559.4,844.7L1560.4,844.7L1560.4,877.6L1561.4,878.8L1561.4,844.7L1562.4,844.7L1562.4,878.3L1563.4,876.5L1563.4,844.7L1564.4,844.7L1564.4,874.9L1565.4,874.2L1565.4,844.7L1566.4,844.6L1566.4,874.1L1567.4,874.5L1567.4,844.1L1568.4,823.2L1568.4,875.7L1569.4,877.6L1569.4,823.2L1570.4,823.2L1570.4,878.8L1571.4,878.8L1571.4,823.2L1572.4,823.2L1572.4,878.7L1573.4,877.1L1573.4,823.2L1574.4,844.1L1574.4,875.5L1575.4,874.8L1575.4,844.6L1576.4,844.7L1576.4,874.7L1577.4,875.0L1577.4,844.7L1578.4,844.7L1578.4,876.0L1579.4,877.6L1579.4,844.7L1580.4,844.7L1580.4,878.8L1581.4,878.8L1581.4,844.7L1582.4,844.7L1582.4,878.8L1583.4,877.5L1583.4,844.6L1584.4,844.1L1584.4,875.7L1585.4,874.8L1585.4,833.9L1586.4,833.9L1586.4,874.5L1587.4,874.6L1587.4,844.1L1588.4,844.6L1588.4,875.3L1589.4,876.9L1589.4,844.7L1590.4,844.7L1590.4,878.7L1591.4,878.8L1591.4,844.7L1592.4,844.7L1592.4,878.8L1593.4,878.8L1593.4,844.7L1594.4,844.7L1594.4,878.8L1595.4,878.8L1595.4,844.7L1596.4,844.7L1596.4,878.5L1597.4,877.2L1597.4,844.6L1598.4,844.1L1598.4,875.9L1599.4,875.4L1599.4,833.9L1600.4,833.9L1600.4,875.4L1601.4,875.9L1601.4,833.9L1602.4,833.9L1602.4,877.1L1603.4,878.5L1603.4,833.9L1604.4,833.9L1604.4,878.8L1605.4,878.2L1605.4,833.9L1606.4,833.9L1606.4,874.5L1607.4,872.1L1607.4,833.9L1608.4,833.9L1608.4,871.4L1609.4,871.3L1609.4,833.9L1610.4,842.9L1610.4,871.3L1611.4,871.3L1611.4,844.3L1612.4,844.7L1612.4,871.7L1613.4,872.8L1613.4,844.7L1614.4,844.7L1614.4,876.3L1615.4,878.8L1615.4,844.7L1616.4,844.7L1616.4,878.8L1617.4,878.8L1617.4,844.7L1618.4,844.7L1618.4,878.8L1619.4,878.8L1619.4,844.7L1620.4,844.7L1620.4,878.0L1621.4,876.8L1621.4,844.6L1622.4,843.9L1622.4,876.1L1623.4,875.8L1623.4,833.9L1624.4,833.9L1624.4,876.1L1625.4,876.9L1625.4,833.9L1626.4,833.9L1626.4,878.1L1627.4,878.8L1627.4,833.9L1628.4,833.9L1628.4,878.8L1629.4,878.8L1629.4,833.9L1630.4,833.9L1630.4,877.5L1631.4,876.0L1631.4,833.9L1632.4,833.9L1632.4,875.1L1633.4,874.8L1633.4,833.9L1634.4,833.8L1634.4,875.1L1635.4,876.0L1635.4,833.1L1636.4,813.5L1636.4,877.5L1637.4,878.8L1637.4,813.5L1638.4,813.5L1638.4,878.8L1639.4,878.8L1639.4,813.5L1640.4,813.5L1640.4,878.8L1641.4,878.8L1641.4,813.5L1642.4,813.5L1642.4,878.8L1643.4,878.8L1643.4,844.1L1644.4,844.6L1644.4,878.8L1645.4,878.5L1645.4,844.7L1646.4,844.7L1646.4,877.0L1647.4,875.6L1647.4,844.7L1648.4,844.7L1648.4,874.9L1649.4,874.8L1649.4,844.7L1650.4,844.7L1650.4,875.2L1651.4,876.4L1651.4,844.7L1652.4,844.7L1652.4,878.0L1653.4,878.8L1653.4,844.7L1654.4,844.7L1654.4,878.8L1655.4,878.8L1655.4,844.7L1656.4,844.3L1656.4,877.5L1657.4,875.6L1657.4,842.9L1658.4,822.1L1658.4,874.5L1659.4,874.2L1659.4,822.1L1660.4,822.1L1660.4,874.3L1661.4,875.0L1661.4,822.1L1662.4,822.1L1662.4,876.7L1663.4,878.5L1663.4,832.8L1664.4,833.7L1664.4,878.8L1665.4,878.8L1665.4,833.9L1666.4,833.9L1666.4,878.2L1667.4,877.0L1667.4,833.9L1668.4,833.9L1668.4,876.2L1669.4,875.9L1669.4,833.9L1670.4,833.9L1670.4,876.2L1671.4,876.9L1671.4,833.9L1672.4,833.9L1672.4,878.1L1673.4,878.8L1673.4,833.9L1674.4,833.9L1674.4,878.8L1675.4,878.8L1675.4,833.9L1676.4,833.9L1676.4,878.3L1677.4,876.9L1677.4,833.9L1678.4,833.9L1678.4,875.6L1679.4,875.1L1679.4,833.9L1680.4,833.9L1680.4,875.1L1681.4,875.6L1681.4,842.9L1682.4,844.3L1682.4,877.0L1683.4,878.4L1683.4,844.7L1684.4,844.7L1684.4,878.8L1685.4,878.0L1685.4,844.7L1686.4,844.7L1686.4,876.7L1687.4,875.8L1687.4,844.7L1688.4,844.7L1688.4,875.6L1689.4,875.8L1689.4,844.7L1690.4,844.7L1690.4,876.7L1691.4,877.9L1691.4,844.7L1692.4,844.6L1692.4,878.8L1693.4,878.8L1693.4,843.9L1694.4,833.9L1694.4,878.8L1695.4,878.8L1695.4,833.9L1696.4,833.9L1696.4,878.0L1697.4,876.5L1697.4,833.9L1698.4,833.9L1698.4,875.3L1699.4,874.9L1699.4,833.9L1700.4,833.9L1700.4,875.0L1701.4,875.6L1701.4,852.7L1702.4,853.3L1702.4,877.0L1703.4,878.5L1703.4,853.3L1704.4,853.3L1704.4,878.8L1705.4,878.5L1705.4,853.3L1706.4,853.3L1706.4,877.1L1707.4,875.8L1707.4,853.3L1708.4,853.3L1708.4,875.3L1709.4,875.3L1709.4,853.3L1710.4,853.3L1710.4,875.8L1711.4,877.0L1711.4,853.3L1712.4,853.3L1712.4,878.4L1713.4,878.8L1713.4,853.3L1714.4,853.3L1714.4,878.8L1715.4,878.8L1715.4,853.3L1716.4,853.3L1716.4,878.8L1717.4,878.8L1717.4,853.3L1718.4,853.1L1718.4,878.8L1719.4,878.8L1719.4,852.1L1720.4,844.7L1720.4,878.8L1721.4,878.0L1721.4,844.7L1722.4,844.7L1722.4,876.1L1723.4,874.6L1723.4,844.7L1724.4,844.7L1724.4,874.1L1725.4,874.1L1725.4,844.7L1726.4,844.7L1726.4,874.6L1727.4,876.0L1727.4,844.7L1728.4,844.7L1728.4,877.9L1729.4,878.8L1729.4,844.7L1730.4,844.7L1730.4,878.8L1731.4,878.8L1731.4,844.5L1732.4,843.5L1732.4,878.8L1733.4,878.8L1733.4,833.9L1734.4,833.9L1734.4,878.8L1735.4,878.1L1735.4,833.9L1736.4,833.9L1736.4,876.4L1737.4,875.2L1737.4,833.9L1738.4,833.9L1738.4,874.7L1739.4,874.7L1739.4,847.2L1740.4,848.6L1740.4,875.2L1741.4,876.6L1741.4,849.0L1742.4,849.0L1742.4,878.3L1743.4,878.8L1743.4,849.0L1744.4,849.0L1744.4,878.8L1745.4,878.8L1745.4,849.0L1746.4,849.0L1746.4,878.8L1747.4,878.8L1747.4,849.0L1748.4,849.0L1748.4,878.8L1749.4,877.6L1749.4,849.0L1750.4,849.0L1750.4,876.5L1751.4,875.8L1751.4,849.0L1752.4,848.9L1752.4,875.7L1753.4,876.1L1753.4,848.4L1754.4,844.7L1754.4,877.1L1755.4,878.3L1755.4,844.7L1756.4,844.7L1756.4,878.8L1757.4,878.1L1757.4,844.7L1758.4,844.7L1758.4,877.0L1759.4,876.1L1759.4,844.7L1760.4,844.7L1760.4,875.9L1761.4,876.1L1761.4,844.7L1762.4,844.7L1762.4,877.0L1763.4,878.1L1763.4,844.7L1764.4,844.7L1764.4,878.8L1765.4,878.8L1765.4,852.1L1766.4,853.1L1766.4,878.8L1767.4,878.8L1767.4,853.3L1768.4,853.3L1768.4,878.8L1769.4,878.8L1769.4,853.3L1770.4,853.3L1770.4,878.8L1771.4,878.8L1771.4,853.3L1772.4,853.3L1772.4,878.8L1773.4,877.7L1773.4,853.3L1774.4,853.3L1774.4,876.0L1775.4,875.0L1775.4,853.3L1776.4,853.2L1776.4,874.6L1777.4,874.7L1777.4,852.5L1778.4,833.9L1778.4,875.4L1779.4,877.0L1779.4,833.9L1780.4,833.9L1780.4,878.7L1781.4,878.8L1781.4,833.9L1782.4,833.9L1782.4,875.5L1783.4,871.6L1783.4,833.9L1784.4,833.9L1784.4,870.6L1785.4,870.2L1785.4,833.9L1786.4,833.9L1786.4,870.2L1787.4,870.2L1787.4,833.9L1788.4,833.9L1788.4,870.2L1789.4,870.2L1789.4,833.9L1790.4,833.9L1790.4,870.3L1791.4,870.8L1791.4,843.5L1792.4,844.5L1792.4,873.1L1793.4,877.4L1793.4,844.7L1794.4,844.7L1794.4,876.9L1795.4,875.5L1795.4,844.7L1796.4,844.7L1796.4,874.9L1797.4,874.8L1797.4,844.7L1798.4,844.7L1798.4,875.2L1799.4,876.4L1799.4,844.7L1800.4,844.7L1800.4,878.0L1801.4,878.8L1801.4,844.7L1802.4,844.7L1802.4,878.8L1803.4,878.8L1803.4,844.7L1804.4,844.7L1804.4,878.8L1805.4,878.8L1805.4,844.7L1806.4,844.6L1806.4,877.3L1807.4,875.6L1807.4,843.9L1808.4,822.1L1808.4,874.7L1809.4,874.5L1809.4,822.1L1810.4,822.1L1810.4,874.7L1811.4,875.6L1811.4,822.1L1812.4,822.1L1812.4,877.3L1813.4,878.8L1813.4,822.1L1814.4,822.1L1814.4,878.8L1815.4,878.8L1815.4,822.1" fill="none" stroke="#ff0000" stroke-width="5" stroke-linejoin="round" stroke-linecap="round"/>
<path d="M340.4,1021.1L340.4,1044.6L341.4,1044.6L341.4,1021.1L342.4,1021.1L342.4,1044.6L343.4,1044.6L343.4,1021.1L344.4,1021.1L344.4,1044.6L345.4,1044.6L345.4,1021.1L346.4,1021.1L346.4,1044.6L347.4,1044.6L347.4,1021.1L348.4,1021.1L348.4,1044.6L349.4,1044.6L349.4,1021.1L350.4,1021.1L350.4,1044.6L351.4,1044.6L351.4,1021.1L352.4,1020.8L352.4,1045.0L353.4,1046.4L353.4,1019.3L354.4,1016.8L354.4,1053.9L355.4,1053.9L355.4,1017.6L356.4,1019.1L356.4,1053.9L357.4,1053.9L357.4,1019.4L358.4,1019.4L358.4,1053.9L359.4,1054.0L359.4,1019.4L360.4,1019.4L360.4,1054.7L361.4,1054.9L361.4,1019.4L362.4,1019.4L362.4,1050.2L363.4,1048.8L363.4,1019.4L364.4,1019.4L364.4,1048.4L365.4,1048.4L365.4,1019.1L366.4,1018.4L366.4,1048.4L367.4,1048.4L367.4,1018.4L368.4,1018.4L368.4,1048.4L369.4,1048.4L369.4,1018.4L370.4,1018.4L370.4,1048.4L371.4,1048.4L371.4,1028.6L372.4,1029.5L372.4,1048.4L373.4,1048.5L373.4,1029.7L374.4,1029.7L374.4,1049.0L375.4,1054.3L375.4,1029.7L376.4,1029.7L376.4,1054.3L377.4,1054.3L377.4,1029.7L378.4,1029.7L378.4,1054.3L379.4,1054.3L379.4,1029.7L380.4,1029.7L380.4,1054.3L381.4,1054.6L381.4,1029.7L382.4,1030.5L382.4,1050.5L383.4,1049.8L383.4,1032.0L384.4,1032.3L384.4,1049.7L385.4,1049.7L385.4,1032.3L386.4,1032.3L386.4,1049.7L387.4,1049.7L387.4,1032.3L388.4,1032.3L388.4,1049.7L389.4,1049.7L389.4,1032.3L390.4,1032.0L390.4,1049.7L391.4,1049.7L391.4,1030.5L392.4,1027.5L392.4,1049.7L393.4,1050.1L393.4,1027.5L394.4,1027.5L394.4,1051.5L395.4,1059.6L395.4,1027.3L396.4,1026.4L396.4,1059.6L397.4,1051.8L397.4,1022.2L398.4,1022.2L398.4,1051.1L399.4,1051.0L399.4,1022.2L400.4,1022.2L400.4,1051.0L401.4,1051.0L401.4,1033.3L402.4,1034.3L402.4,1051.0L403.4,1051.0L403.4,1034.5L404.4,1034.5L404.4,1051.0L405.4,1051.0L405.4,1034.5L406.4,1034.5L406.4,1051.0L407.4,1051.0L407.4,1034.5L408.4,1034.5L408.4,1051.0L409.4,1051.0L409.4,1034.5L410.4,1034.3L410.4,1051.0L411.4,1051.0L411.4,1033.3L412.4,1024.8L412.4,1051.0L413.4,1051.0L413.4,1024.8L414.4,1024.8L414.4,1051.0L415.4,1051.0L415.4,1024.8L416.4,1024.8L416.4,1051.0L417.4,1051.5L417.4,1024.8L418.4,1024.8L418.4,1053.2L419.4,1053.2L419.4,1024.4L420.4,1023.0L420.4,1053.2L421.4,1053.4L421.4,1022.2L422.4,1022.2L422.4,1054.4L423.4,1055.0L423.4,1033.5L424.4,1034.0L424.4,1053.6L425.4,1053.2L425.4,1034.0L426.4,1034.0L426.4,1053.2L427.4,1053.2L427.4,1034.0L428.4,1034.0L428.4,1053.2L429.4,1053.2L429.4,1034.0L430.4,1034.0L430.4,1053.2L431.4,1053.2L431.4,1034.0L432.4,1034.0L432.4,1053.7L433.4,1053.8L433.4,1034.0L434.4,1034.0L434.4,1053.8L435.4,1053.8L435.4,1034.0L436.4,1034.0L436.4,1053.8L437.4,1053.8L437.4,1034.0L438.4,1034.0L438.4,1054.0L439.4,1055.0L439.4,1034.0L440.4,1034.0L440.4,1056.1L441.4,1056.1L441.4,1034.0L442.4,1033.9L442.4,1056.1L443.4,1056.4L443.4,1033.2L444.4,1025.4L444.4,1050.0L445.4,1049.1L445.4,1026.2L446.4,1027.7L446.4,1048.9L447.4,1048.9L447.4,1028.0L448.4,1028.0L448.4,1048.9L449.4,1048.9L449.4,1028.0L450.4,1028.0L450.4,1048.9L451.4,1048.9L451.4,1027.7L452.4,1027.5L452.4,1048.9L453.4,1048.9L453.4,1027.5L454.4,1028.6L454.4,1048.9L455.4,1049.0L455.4,1029.5L456.4,1029.7L456.4,1049.7L457.4,1059.6L457.4,1029.7L458.4,1029.7L458.4,1059.6L459.4,1058.8L459.4,1029.7L460.4,1029.7L460.4,1058.3L461.4,1058.3L461.4,1029.7L462.4,1029.7L462.4,1058.3L463.4,1058.3L463.4,1029.7L464.4,1031.4L464.4,1058.3L465.4,1058.3L465.4,1031.9L466.4,1032.0L466.4,1050.2L467.4,1049.7L467.4,1032.0L468.4,1032.0L468.4,1049.7L469.4,1049.7L469.4,1032.0L470.4,1032.0L470.4,1049.7L471.4,1049.7L471.4,1032.6L472.4,1033.0L472.4,1049.7L473.4,1049.7L473.4,1033.0L474.4,1033.0L474.4,1049.7L475.4,1049.7L475.4,1033.0L476.4,1033.0L476.4,1049.7L477.4,1049.9L477.4,1033.0L478.4,1033.0L478.4,1050.3L479.4,1050.3L479.4,1038.2L480.4,1038.7L480.4,1050.3L481.4,1050.6L481.4,1038.8L482.4,1038.8L482.4,1051.5L483.4,1059.6L483.4,1038.8L484.4,1038.8L484.4,1059.6L485.4,1059.6L485.4,1038.8L486.4,1038.8L486.4,1060.1L487.4,1051.7L487.4,1038.8L488.4,1038.4L488.4,1050.8L489.4,1050.6L489.4,1037.0L490.4,1035.2L490.4,1050.6L491.4,1050.6L491.4,1035.2L492.4,1035.2L492.4,1050.6L493.4,1047.3L493.4,1034.8L494.4,1034.0L494.4,1046.8L495.4,1046.7L495.4,1034.0L496.4,1034.0L496.4,1046.7L497.4,1046.7L497.4,1037.6L498.4,1038.6L498.4,1046.7L499.4,1046.7L499.4,1038.8L500.4,1038.8L500.4,1046.7L501.4,1046.7L501.4,1038.8L502.4,1038.7L502.4,1046.8L503.4,1047.3L503.4,1038.2L504.4,1029.5L504.4,1059.6L505.4,1059.6L505.4,1029.5L506.4,1029.5L506.4,1059.7L507.4,1060.2L507.4,1029.5L508.4,1029.5L508.4,1062.5L509.4,1062.5L509.4,1029.5L510.4,1029.5L510.4,1062.5L511.4,1062.5L511.4,1034.3L512.4,1035.0L512.4,1062.5L513.4,1052.1L513.4,1035.1L514.4,1035.1L514.4,1051.2L515.4,1051.0L515.4,1035.1L516.4,1035.1L516.4,1051.0L517.4,1051.0L517.4,1035.1L518.4,1035.1L518.4,1051.0L519.4,1051.0L519.4,1035.1L520.4,1035.1L520.4,1050.9L521.4,1050.4L521.4,1038.1L522.4,1039.5L522.4,1050.3L523.4,1050.3L523.4,1039.9L524.4,1039.9L524.4,1050.3L525.4,1050.3L525.4,1039.9L526.4,1039.9L526.4,1050.3L527.4,1050.3L527.4,1039.9L528.4,1039.9L528.4,1050.3L529.4,1050.3L529.4,1039.5L530.4,1038.9L530.4,1050.6L531.4,1051.5L531.4,1038.9L532.4,1038.9L532.4,1052.7L533.4,1052.7L533.4,1038.9L534.4,1038.9L534.4,1052.7L535.4,1052.7L535.4,1038.9L536.4,1038.9L536.4,1052.7L537.4,1053.0L537.4,1038.6L538.4,1037.7L538.4,1053.9L539.4,1059.7L539.4,1019.1L540.4,1019.1L540.4,1059.1L541.4,1058.9L541.4,1019.1L542.4,1019.1L542.4,1058.9L543.4,1051.5L543.4,1021.9L544.4,1022.5L544.4,1050.6L545.4,1050.3L545.4,1022.7L546.4,1022.7L546.4,1050.3L547.4,1050.3L547.4,1022.7L548.4,1022.7L548.4,1050.3L549.4,1050.3L549.4,1022.7L550.4,1022.7L550.4,1050.3L551.4,1050.3L551.4,1022.7L552.4,1031.1L552.4,1049.4L553.4,1048.9L553.4,1031.8L554.4,1031.9L554.4,1048.9L555.4,1048.9L555.4,1031.9L556.4,1031.9L556.4,1048.9L557.4,1048.9L557.4,1031.9L558.4,1031.9L558.4,1048.9L559.4,1049.4L559.4,1031.9L560.4,1031.8L560.4,1057.6L561.4,1058.3L561.4,1031.1L562.4,1029.7L562.4,1059.6L563.4,1059.6L563.4,1029.7L564.4,1029.7L564.4,1054.5L565.4,1053.1L565.4,1029.7L566.4,1029.7L566.4,1052.7L567.4,1052.7L567.4,1029.7L568.4,1029.7L568.4,1052.7L569.4,1052.7L569.4,1037.2L570.4,1037.7L570.4,1052.7L571.4,1052.7L571.4,1037.8L572.4,1037.8L572.4,1052.7L573.4,1052.7L573.4,1037.8L574.4,1037.8L574.4,1052.7L575.4,1052.7L575.4,1037.8L576.4,1037.8L576.4,1052.7L577.4,1052.7L577.4,1037.8L578.4,1037.8L578.4,1052.7L579.4,1052.7L579.4,1037.8L580.4,1037.4L580.4,1052.7L581.4,1051.3L581.4,1036.0L582.4,1038.2L582.4,1051.0L583.4,1051.0L583.4,1038.7L584.4,1038.8L584.4,1051.0L585.4,1051.0L585.4,1038.8L586.4,1038.8L586.4,1051.0L587.4,1051.0L587.4,1038.8L588.4,1038.7L588.4,1051.3L589.4,1051.8L589.4,1038.0L590.4,1034.0L590.4,1051.8L591.4,1051.8L591.4,1034.0L592.4,1034.0L592.4,1051.8L593.4,1051.8L593.4,1033.6L594.4,1032.2L594.4,1051.8L595.4,1051.8L595.4,1021.2L596.4,1023.0L596.4,1051.8L597.4,1052.0L597.4,1023.7L598.4,1023.8L598.4,1052.9L599.4,1059.6L599.4,1023.8L600.4,1023.8L600.4,1059.6L601.4,1059.6L601.4,1023.8L602.4,1023.8L602.4,1059.6L603.4,1059.5L603.4,1023.8L604.4,1023.8L604.4,1059.0L605.4,1058.9L605.4,1023.8L606.4,1023.8L606.4,1058.9L607.4,1048.5L607.4,1027.9L608.4,1029.4L608.4,1047.0L609.4,1046.7L609.4,1029.7L610.4,1029.7L610.4,1046.7L611.4,1046.7L611.4,1029.7L612.4,1029.7L612.4,1046.7L613.4,1046.7L613.4,1029.7L614.4,1029.7L614.4,1046.7L615.4,1046.5L615.4,1029.7L616.4,1029.6L616.4,1045.6L617.4,1045.4L617.4,1028.9L618.4,1021.7L618.4,1045.4L619.4,1045.4L619.4,1021.7L620.4,1021.7L620.4,1045.4L621.4,1045.4L621.4,1021.7L622.4,1021.7L622.4,1045.4L623.4,1045.4L623.4,1021.7L624.4,1021.7L624.4,1045.4L625.4,1045.6L625.4,1033.5L626.4,1034.0L626.4,1046.5L627.4,1056.1L627.4,1034.0L628.4,1034.0L628.4,1055.4L629.4,1054.8L629.4,1034.0L630.4,1034.0L630.4,1054.6L631.4,1054.6L631.4,1034.0L632.4,1034.0L632.4,1054.6L633.4,1054.6L633.4,1034.0L634.4,1034.0L634.4,1054.6L635.4,1054.6L635.4,1033.5L636.4,1033.0L636.4,1054.6L637.4,1054.6L637.4,1033.0L638.4,1033.0L638.4,1054.6L639.4,1054.6L639.4,1033.6L640.4,1033.7L640.4,1054.9L641.4,1055.8L641.4,1033.7L642.4,1033.7L642.4,1052.9L643.4,1051.9L643.4,1033.7L644.4,1033.4L644.4,1051.7L645.4,1051.5L645.4,1031.9L646.4,1022.9L646.4,1051.3L647.4,1051.1L647.4,1022.4L648.4,1023.1L648.4,1050.9L649.4,1050.5L649.4,1023.9L650.4,1024.6L650.4,1050.0L651.4,1049.5L651.4,1025.1L652.4,1025.3L652.4,1049.0L653.4,1048.6L653.4,1025.5L654.4,1025.8L654.4,1048.6L655.4,1048.9L655.4,1032.6L656.4,1033.5L656.4,1049.4L657.4,1049.9L657.4,1033.7L658.4,1033.7L658.4,1050.4L659.4,1050.6L659.4,1033.7L660.4,1033.7L660.4,1050.9L661.4,1050.2L661.4,1033.7L662.4,1033.7L662.4,1049.0L663.4,1047.9L663.4,1033.7L664.4,1033.2L664.4,1046.6L665.4,1044.9L665.4,1031.1L666.4,1009.6L666.4,1044.0L667.4,1043.7L667.4,1009.2L668.4,1009.8L668.4,1044.0L669.4,1044.9L669.4,1018.3L670.4,1021.2L670.4,1048.6L671.4,1052.8L671.4,1021.7L672.4,1021.7L672.4,1055.6L673.4,1058.4L673.4,1021.2L674.4,1020.4L674.4,1059.8L675.4,1058.4L675.4,1019.6L676.4,1018.7L676.4,1057.1L677.4,1056.0L677.4,1017.7L678.4,1016.7L678.4,1055.4L679.4,1054.9L679.4,1016.5L680.4,1018.8L680.4,1054.4L681.4,1053.9L681.4,1020.6L682.4,1021.3L682.4,1053.5L683.4,1053.4L683.4,1021.5L684.4,1021.7L684.4,1053.6L685.4,1053.9L685.4,1021.9L686.4,1022.1L686.4,1054.1L687.4,1054.4L687.4,1022.3L688.4,1022.4L688.4,1054.3L689.4,1054.3L689.4,1022.2L690.4,1021.3L690.4,1054.2L691.4,1054.1L691.4,1019.6L692.4,1019.6L692.4,1054.1L693.4,1054.0L693.4,1019.5L694.4,1019.5L694.4,1053.4L695.4,1052.4L695.4,1019.4L696.4,1019.4L696.4,1051.4L697.4,1050.4L697.4,1019.3L698.4,1019.3L698.4,1049.4L699.4,1048.4L699.4,1019.2L700.4,1018.9L700.4,1047.4L701.4,1046.4L701.4,1017.5L702.4,1015.3L702.4,1044.3L703.4,1035.9L703.4,1013.5L704.4,1012.8L704.4,1035.2L705.4,1035.1L705.4,1012.1L706.4,1011.5L706.4,1035.2L707.4,1035.4L707.4,1010.8L708.4,1010.1L708.4,1035.5L709.4,1035.7L709.4,1009.5L710.4,1008.8L710.4,1036.2L711.4,1037.2L711.4,1008.1L712.4,1007.4L712.4,1037.6L713.4,1037.4L713.4,1005.6L714.4,1002.1L714.4,1037.3L715.4,1036.4L715.4,999.5L716.4,999.0L716.4,1035.6L717.4,1034.5L717.4,998.5L718.4,998.0L718.4,1033.0L719.4,1031.6L719.4,997.1L720.4,983.9L720.4,1029.8L721.4,1026.5L721.4,982.9L722.4,981.9L722.4,1024.3L723.4,1023.3L723.4,980.9L724.4,979.9L724.4,1022.3L725.4,1021.3L725.4,978.6L726.4,973.1L726.4,1008.4L727.4,1003.9L727.4,972.6L728.4,972.0L728.4,1003.4L729.4,1003.3L729.4,970.5L730.4,959.5L730.4,1003.3L731.4,1003.3L731.4,958.7L732.4,959.2L732.4,1003.4L733.4,1003.9L733.4,959.9L734.4,961.3L734.4,1012.7L735.4,1027.5L735.4,971.7L736.4,981.5L736.4,1026.5L737.4,1026.0L737.4,982.2L738.4,982.9L738.4,1026.0L739.4,1026.5L739.4,983.6L740.4,984.2L740.4,1027.7L741.4,1029.1L741.4,989.5L742.4,990.5L742.4,1030.4L743.4,1032.1L743.4,990.7L744.4,990.7L744.4,1034.6L745.4,1036.4L745.4,990.7L746.4,990.7L746.4,1036.8L747.4,1036.2L747.4,990.7L748.4,991.4L748.4,1035.5L749.4,1035.1L749.4,992.4L750.4,1013.3L750.4,1035.0L751.4,1035.0L751.4,1014.6L752.4,1015.0L752.4,1034.9L753.4,1034.8L753.4,1014.9L754.4,1014.2L754.4,1034.8L755.4,1034.7L755.4,1012.3L756.4,1011.2L756.4,1034.6L757.4,1034.6L757.4,1010.7L758.4,1010.1L758.4,1034.6L759.4,1034.8L759.4,1009.4L760.4,995.8L760.4,1035.4L761.4,1036.0L761.4,990.7L762.4,991.7L762.4,1036.6L763.4,1037.2L763.4,1005.0L764.4,1015.4L764.4,1037.8L765.4,1038.3L765.4,1015.9L766.4,1015.9L766.4,1038.8L767.4,1039.3L767.4,1015.8L768.4,1015.6L768.4,1039.4L769.4,1038.9L769.4,1015.4L770.4,1015.0L770.4,1036.3L771.4,1035.3L771.4,1014.1L772.4,1013.1L772.4,1035.1L773.4,1035.3L773.4,1012.1L774.4,1010.6L774.4,1035.7L775.4,1036.0L775.4,1004.6L776.4,1004.1L776.4,1036.4L777.4,1036.7L777.4,1004.7L778.4,1009.1L778.4,1037.1L779.4,1037.4L779.4,1012.0L780.4,1012.7L780.4,1037.7L781.4,1037.5L781.4,1012.8L782.4,1012.9L782.4,1037.4L783.4,1037.3L783.4,1012.9L784.4,1013.0L784.4,1037.2L785.4,1037.0L785.4,1013.1L786.4,1013.2L786.4,1036.9L787.4,1036.8L787.4,1015.9L788.4,1017.4L788.4,1036.5L789.4,1036.2L789.4,1018.3L790.4,1019.2L790.4,1035.8L791.4,1035.4L791.4,1020.1L792.4,1021.0L792.4,1035.1L793.4,1035.1L793.4,1021.9L794.4,1022.4L794.4,1035.3L795.4,1035.4L795.4,1022.4L796.4,1022.2L796.4,1035.5L797.4,1035.7L797.4,1022.1L798.4,1021.9L798.4,1035.8L799.4,1035.9L799.4,1021.5L800.4,1020.1L800.4,1036.1L801.4,1036.2L801.4,1017.1L802.4,1014.2L802.4,1036.4L803.4,1036.5L803.4,1012.9L804.4,1011.5L804.4,1036.6L805.4,1036.8L805.4,1010.4L806.4,1009.8L806.4,1037.5L807.4,1038.2L807.4,1009.1L808.4,1010.0L808.4,1039.0L809.4,1039.7L809.4,1011.0L810.4,1012.0L810.4,1040.4L811.4,1041.0L811.4,1012.6L812.4,1012.9L812.4,1041.6L813.4,1042.2L813.4,1013.1L814.4,1013.3L814.4,1042.8L815.4,1043.4L815.4,1013.5L816.4,1017.9L816.4,1044.4L817.4,1045.6L817.4,1019.3L818.4,1019.7L818.4,1046.9L819.4,1046.8L819.4,1019.6L820.4,1018.9L820.4,1045.8L821.4,1044.8L821.4,1017.6L822.4,1016.6L822.4,1044.3L823.4,1044.3L823.4,1016.3L824.4,1016.7L824.4,1044.7L825.4,1045.2L825.4,1017.3L826.4,1019.1L826.4,1045.7L827.4,1046.2L827.4,1023.9L828.4,1024.8L828.4,1046.7L829.4,1047.8L829.4,1025.1L830.4,1024.8L830.4,1049.1L831.4,1049.9L831.4,1024.0L832.4,1022.7L832.4,1049.4L833.4,1048.8L833.4,1021.5L834.4,1020.2L834.4,1048.1L835.4,1047.4L835.4,1019.4L836.4,1019.1L836.4,1047.0L837.4,1047.0L837.4,1018.9L838.4,1018.6L838.4,1047.1L839.4,1047.3L839.4,1018.1L840.4,1015.5L840.4,1047.5L841.4,1047.5L841.4,1011.9L842.4,1011.9L842.4,1047.5L843.4,1047.5L843.4,1011.9L844.4,1017.8L844.4,1047.6L845.4,1048.3L845.4,1018.7L846.4,1018.9L846.4,1052.5L847.4,1052.5L847.4,1018.9L848.4,1018.9L848.4,1052.5L849.4,1052.5L849.4,1018.9L850.4,1018.9L850.4,1052.5L851.4,1052.5L851.4,1018.9L852.4,1018.9L852.4,1052.5L853.4,1052.6L853.4,1018.9L854.4,1018.9L854.4,1053.1L855.4,1053.1L855.4,1018.9L856.4,1018.9L856.4,1053.1L857.4,1053.1L857.4,1018.8L858.4,1018.1L858.4,1053.1L859.4,1053.1L859.4,1008.3L860.4,1008.3L860.4,1053.1L861.4,1052.2L861.4,1008.3L862.4,1008.3L862.4,1051.9L863.4,1051.8L863.4,1008.3L864.4,1008.3L864.4,1051.8L865.4,1051.8L865.4,1026.5L866.4,1027.0L866.4,1051.8L867.4,1051.3L867.4,1027.0L868.4,1027.0L868.4,1051.0L869.4,1051.0L869.4,1027.0L870.4,1027.0L870.4,1048.3L871.4,1047.7L871.4,1027.7L872.4,1028.0L872.4,1047.5L873.4,1047.5L873.4,1028.0L874.4,1028.0L874.4,1047.5L875.4,1047.5L875.4,1028.0L876.4,1028.0L876.4,1047.5L877.4,1047.5L877.4,1028.0L878.4,1028.0L878.4,1047.5L879.4,1047.5L879.4,1027.5L880.4,1025.4L880.4,1047.5L881.4,1047.5L881.4,1025.7L882.4,1026.2L882.4,1047.5L883.4,1047.8L883.4,1026.2L884.4,1026.2L884.4,1048.7L885.4,1052.5L885.4,1026.2L886.4,1026.2L886.4,1052.5L887.4,1052.5L887.4,1026.2L888.4,1026.1L888.4,1052.5L889.4,1052.5L889.4,1027.9L890.4,1029.3L890.4,1052.5L891.4,1052.5L891.4,1029.7L892.4,1029.7L892.4,1052.8L893.4,1053.1L893.4,1029.7L894.4,1029.7L894.4,1053.1L895.4,1053.1L895.4,1029.7L896.4,1029.7L896.4,1053.1L897.4,1053.1L897.4,1029.7L898.4,1035.4L898.4,1053.1L899.4,1053.1L899.4,1036.1L900.4,1036.2L900.4,1053.2L901.4,1053.9L901.4,1036.2L902.4,1036.2L902.4,1057.4L903.4,1057.4L903.4,1036.2L904.4,1036.2L904.4,1057.4L905.4,1057.4L905.4,1036.2L906.4,1036.2L906.4,1057.4L907.4,1057.4L907.4,1041.5L908.4,1042.0L908.4,1057.5L909.4,1058.0L909.4,1042.0L910.4,1042.0L910.4,1059.0L911.4,1053.9L911.4,1042.0L912.4,1042.0L912.4,1053.2L913.4,1053.1L913.4,1042.0L914.4,1042.0L914.4,1053.1L915.4,1053.1L915.4,1042.0L916.4,1042.0L916.4,1053.1L917.4,1053.1L917.4,1042.0L918.4,1041.5L918.4,1053.1L919.4,1053.1L919.4,1028.7L920.4,1028.7L920.4,1053.1L921.4,1053.1L921.4,1028.7L922.4,1028.7L922.4,1053.1L923.4,1053.1L923.4,1028.4L924.4,1030.1L924.4,1053.1L925.4,1053.1L925.4,1030.8L926.4,1030.9L926.4,1053.2L927.4,1053.9L927.4,1030.9L928.4,1030.9L928.4,1060.3L929.4,1060.3L929.4,1030.9L930.4,1030.9L930.4,1060.3L931.4,1060.3L931.4,1032.1L932.4,1032.6L932.4,1060.4L933.4,1061.1L933.4,1032.7L934.4,1032.7L934.4,1061.1L935.4,1061.1L935.4,1032.7L936.4,1032.7L936.4,1060.8L937.4,1060.3L937.4,1032.7L938.4,1032.7L938.4,1060.3L939.4,1060.3L939.4,1032.5L940.4,1031.5L940.4,1060.3L941.4,1060.3L941.4,1030.3L942.4,1030.3L942.4,1060.3L943.4,1060.3L943.4,1030.3L944.4,1030.3L944.4,1060.8L945.4,1061.7L945.4,1034.4L946.4,1035.8L946.4,1061.7L947.4,1061.7L947.4,1036.2L948.4,1036.2L948.4,1061.7L949.4,1061.8L949.4,1036.2L950.4,1036.2L950.4,1062.5L951.4,1062.8L951.4,1036.2L952.4,1036.2L952.4,1062.8L953.4,1062.8L953.4,1036.2L954.4,1039.7L954.4,1062.8L955.4,1062.8L955.4,1040.4L956.4,1040.5L956.4,1062.8L957.4,1062.8L957.4,1040.5L958.4,1040.5L958.4,1062.8L959.4,1062.8L959.4,1040.5L960.4,1040.5L960.4,1062.8L961.4,1062.8L961.4,1040.5L962.4,1040.5L962.4,1062.8L963.4,1060.1L963.4,1040.5L964.4,1040.5L964.4,1059.6L965.4,1059.6L965.4,1040.5L966.4,1040.1L966.4,1059.6L967.4,1059.6L967.4,1038.7L968.4,1040.7L968.4,1059.6L969.4,1059.6L969.4,1041.2L970.4,1041.3L970.4,1059.6L971.4,1059.6L971.4,1041.3L972.4,1041.3L972.4,1058.8L973.4,1058.5L973.4,1041.2L974.4,1040.7L974.4,1058.5L975.4,1058.5L975.4,1036.2L976.4,1036.2L976.4,1058.5L977.4,1058.5L977.4,1036.4L978.4,1036.9L978.4,1058.5L979.4,1059.0L979.4,1037.0L980.4,1037.0L980.4,1059.6L981.4,1059.6L981.4,1037.0L982.4,1037.0L982.4,1059.6L983.4,1059.6L983.4,1037.0L984.4,1037.0L984.4,1059.6L985.4,1059.6L985.4,1037.0L986.4,1037.0L986.4,1059.6L987.4,1060.1L987.4,1037.0L988.4,1039.8L988.4,1062.1L989.4,1062.1L989.4,1041.3L990.4,1041.6L990.4,1062.1L991.4,1062.1L991.4,1041.7L992.4,1041.7L992.4,1062.1L993.4,1062.1L993.4,1041.7L994.4,1041.7L994.4,1062.6L995.4,1064.6L995.4,1041.7L996.4,1041.7L996.4,1064.6L997.4,1064.6L997.4,1041.7L998.4,1041.7L998.4,1060.7L999.4,1060.1L999.4,1041.9L1000.4,1042.5L1000.4,1060.0L1001.4,1060.3L1001.4,1043.0L1002.4,1043.5L1002.4,1060.8L1003.4,1061.3L1003.4,1044.0L1004.4,1044.2L1004.4,1061.8L1005.4,1061.4L1005.4,1044.0L1006.4,1043.7L1006.4,1061.0L1007.4,1060.6L1007.4,1043.4L1008.4,1043.2L1008.4,1060.3L1009.4,1060.4L1009.4,1042.9L1010.4,1042.4L1010.4,1060.5L1011.4,1060.7L1011.4,1042.0L1012.4,1041.5L1012.4,1060.8L1013.4,1061.0L1013.4,1041.3L1014.4,1041.5L1014.4,1061.5L1015.4,1062.2L1015.4,1041.7L1016.4,1041.9L1016.4,1062.8L1017.4,1063.5L1017.4,1041.9L1018.4,1041.8L1018.4,1064.2L1019.4,1064.8L1019.4,1041.6L1020.4,1041.4L1020.4,1064.5L1021.4,1064.0L1021.4,1041.3L1022.4,1041.1L1022.4,1063.6L1023.4,1063.3L1023.4,1040.9L1024.4,1040.7L1024.4,1063.4L1025.4,1063.6L1025.4,1039.8L1026.4,1035.1L1026.4,1063.8L1027.4,1064.0L1027.4,1032.3L1028.4,1031.8L1028.4,1063.6L1029.4,1063.1L1029.4,1032.6L1030.4,1036.1L1030.4,1062.6L1031.4,1062.1L1031.4,1040.8L1032.4,1041.7L1032.4,1061.6L1033.4,1061.1L1033.4,1042.0L1034.4,1042.0L1034.4,1061.0L1035.4,1061.1L1035.4,1042.0L1036.4,1042.0L1036.4,1061.4L1037.4,1061.7L1037.4,1042.0L1038.4,1042.0L1038.4,1061.9L1039.4,1062.0L1039.4,1042.2L1040.4,1042.4L1040.4,1062.0L1041.4,1062.0L1041.4,1042.6L1042.4,1042.8L1042.4,1062.0L1043.4,1061.8L1043.4,1043.0L1044.4,1043.0L1044.4,1061.6L1045.4,1061.4L1045.4,1042.5L1046.4,1040.0L1046.4,1061.1L1047.4,1060.9L1047.4,1035.7L1048.4,1035.2L1048.4,1060.6L1049.4,1060.3L1049.4,1035.1L1050.4,1035.8L1050.4,1060.1L1051.4,1059.9L1051.4,1036.6L1052.4,1037.4L1052.4,1060.1L1053.4,1060.6L1053.4,1038.2L1054.4,1039.0L1054.4,1061.1L1055.4,1061.6L1055.4,1039.8L1056.4,1040.6L1056.4,1061.8L1057.4,1061.5L1057.4,1041.4L1058.4,1041.9L1058.4,1061.2L1059.4,1061.0L1059.4,1041.9L1060.4,1041.7L1060.4,1060.7L1061.4,1060.5L1061.4,1041.4L1062.4,1041.2L1062.4,1060.3L1063.4,1060.0L1063.4,1040.9L1064.4,1040.5L1064.4,1059.9L1065.4,1060.1L1065.4,1039.1L1066.4,1034.5L1066.4,1060.6L1067.4,1061.0L1067.4,1029.5L1068.4,1028.9L1068.4,1061.5L1069.4,1061.9L1069.4,1028.4L1070.4,1029.1L1070.4,1061.9L1071.4,1061.9L1071.4,1029.9L1072.4,1038.5L1072.4,1062.0L1073.4,1061.9L1073.4,1044.4L1074.4,1045.1L1074.4,1061.7L1075.4,1061.6L1075.4,1045.6L1076.4,1046.1L1076.4,1061.4L1077.4,1061.2L1077.4,1046.6L1078.4,1047.1L1078.4,1061.1L1079.4,1060.9L1079.4,1047.3L1080.4,1047.1L1080.4,1061.1L1081.4,1061.2L1081.4,1046.7L1082.4,1046.3L1082.4,1061.3L1083.4,1061.0L1083.4,1045.9L1084.4,1045.5L1084.4,1060.2L1085.4,1059.4L1085.4,1045.1L1086.4,1044.4L1086.4,1058.6L1087.4,1058.1L1087.4,1039.5L1088.4,1035.5L1088.4,1058.1L1089.4,1058.3L1089.4,1035.0L1090.4,1034.5L1090.4,1058.5L1091.4,1058.6L1091.4,1034.2L1092.4,1033.9L1092.4,1058.7L1093.4,1058.5L1093.4,1033.6L1094.4,1033.4L1094.4,1058.3L1095.4,1058.1L1095.4,1033.1L1096.4,1033.5L1096.4,1058.0L1097.4,1058.0L1097.4,1034.4L1098.4,1035.3L1098.4,1057.9L1099.4,1057.9L1099.4,1036.1L1100.4,1036.5L1100.4,1057.9L1101.4,1058.1L1101.4,1036.6L1102.4,1036.6L1102.4,1058.2L1103.4,1058.3L1103.4,1036.6L1104.4,1036.6L1104.4,1058.5L1105.4,1058.9L1105.4,1036.6L1106.4,1036.6L1106.4,1059.4L1107.4,1059.7L1107.4,1036.2L1108.4,1035.5L1108.4,1059.4L1109.4,1059.1L1109.4,1035.1L1110.4,1035.8L1110.4,1058.9L1111.4,1058.6L1111.4,1036.6L1112.4,1043.1L1112.4,1058.4L1113.4,1058.2L1113.4,1044.6L1114.4,1045.1L1114.4,1058.0L1115.4,1057.8L1115.4,1045.1L1116.4,1044.8L1116.4,1057.9L1117.4,1058.4L1117.4,1044.6L1118.4,1044.3L1118.4,1059.1L1119.4,1059.9L1119.4,1044.1L1120.4,1043.6L1120.4,1060.6L1121.4,1061.1L1121.4,1041.0L1122.4,1035.6L1122.4,1061.3L1123.4,1061.5L1123.4,1035.1L1124.4,1035.7L1124.4,1061.6L1125.4,1061.8L1125.4,1036.6L1126.4,1043.4L1126.4,1061.5L1127.4,1060.7L1127.4,1044.9L1128.4,1045.7L1128.4,1060.0L1129.4,1059.2L1129.4,1046.5L1130.4,1047.4L1130.4,1058.9L1131.4,1058.9L1131.4,1048.2L1132.4,1049.0L1132.4,1059.4L1133.4,1060.1L1133.4,1049.9L1134.4,1050.4L1134.4,1060.8L1135.4,1061.4L1135.4,1050.5L1136.4,1050.6L1136.4,1062.1L1137.4,1062.8L1137.4,1050.6L1138.4,1050.7L1138.4,1062.8L1139.4,1062.6L1139.4,1050.7L1140.4,1050.7L1140.4,1062.4L1141.4,1062.3L1141.4,1050.6L1142.4,1050.6L1142.4,1062.5L1143.4,1063.2L1143.4,1050.5L1144.4,1050.3L1144.4,1064.0L1145.4,1064.8L1145.4,1049.6L1146.4,1046.1L1146.4,1065.6L1147.4,1065.5L1147.4,1041.1L1148.4,1038.4L1148.4,1065.4L1149.4,1065.2L1149.4,1037.6L1150.4,1036.9L1150.4,1064.7L1151.4,1064.1L1151.4,1036.1L1152.4,1035.9L1152.4,1063.5L1153.4,1063.0L1153.4,1036.8L1154.4,1037.7L1154.4,1062.8L1155.4,1062.8L1155.4,1038.7L1156.4,1039.5L1156.4,1062.9L1157.4,1063.0L1157.4,1040.3L1158.4,1041.1L1158.4,1063.1L1159.4,1062.9L1159.4,1041.9L1160.4,1042.7L1160.4,1062.7L1161.4,1062.4L1161.4,1043.5L1162.4,1044.5L1162.4,1062.2L1163.4,1062.2L1163.4,1045.5L1164.4,1046.5L1164.4,1062.6L1165.4,1063.0L1165.4,1047.5L1166.4,1048.5L1166.4,1063.4L1167.4,1063.6L1167.4,1049.5L1168.4,1050.3L1168.4,1063.1L1169.4,1062.7L1169.4,1050.5L1170.4,1050.3L1170.4,1062.3L1171.4,1062.0L1171.4,1049.8L1172.4,1049.4L1172.4,1062.1L1173.4,1062.3L1173.4,1048.9L1174.4,1049.2L1174.4,1062.5L1175.4,1062.6L1175.4,1049.6L1176.4,1050.1L1176.4,1062.8L1177.4,1063.0L1177.4,1050.5L1178.4,1050.5L1178.4,1063.1L1179.4,1063.1L1179.4,1050.0L1180.4,1047.9L1180.4,1063.1L1181.4,1062.9L1181.4,1044.4L1182.4,1042.4L1182.4,1062.4L1183.4,1061.9L1183.4,1042.0L1184.4,1041.7L1184.4,1061.5L1185.4,1061.4L1185.4,1041.4L1186.4,1041.0L1186.4,1061.6L1187.4,1061.8L1187.4,1040.8L1188.4,1040.6L1188.4,1061.9L1189.4,1061.9L1189.4,1040.4L1190.4,1040.3L1190.4,1061.8L1191.4,1061.7L1191.4,1040.1L1192.4,1041.1L1192.4,1061.7L1193.4,1061.9L1193.4,1042.8L1194.4,1044.4L1194.4,1062.2L1195.4,1062.5L1195.4,1045.1L1196.4,1045.7L1196.4,1062.8L1197.4,1062.9L1197.4,1046.3L1198.4,1046.9L1198.4,1063.0L1199.4,1063.1L1199.4,1047.5L1200.4,1048.1L1200.4,1063.3L1201.4,1063.5L1201.4,1048.3L1202.4,1048.2L1202.4,1063.8L1203.4,1063.9L1203.4,1047.6L1204.4,1046.9L1204.4,1063.7L1205.4,1063.4L1205.4,1046.3L1206.4,1045.9L1206.4,1063.2L1207.4,1062.9L1207.4,1045.6L1208.4,1045.5L1208.4,1062.7L1209.4,1062.5L1209.4,1046.5L1210.4,1047.5L1210.4,1062.3L1211.4,1062.4L1211.4,1048.2L1212.4,1048.6L1212.4,1062.6L1213.4,1062.8L1213.4,1048.9L1214.4,1049.2L1214.4,1063.0L1215.4,1063.0L1215.4,1049.6L1216.4,1049.9L1216.4,1063.0L1217.4,1062.9L1217.4,1050.2L1218.4,1050.5L1218.4,1062.9L1219.4,1063.0L1219.4,1050.4L1220.4,1049.7L1220.4,1063.2L1221.4,1063.4L1221.4,1048.4L1222.4,1047.1L1222.4,1063.6L1223.4,1063.7L1223.4,1045.9L1224.4,1045.5L1224.4,1063.7L1225.4,1063.7L1225.4,1046.0L1226.4,1046.7L1226.4,1063.7L1227.4,1063.4L1227.4,1047.5L1228.4,1048.6L1228.4,1063.0L1229.4,1062.7L1229.4,1049.8L1230.4,1051.1L1230.4,1062.3L1231.4,1062.1L1231.4,1052.3L1232.4,1053.4L1232.4,1062.2L1233.4,1062.6L1233.4,1053.7L1234.4,1053.7L1234.4,1063.1L1235.4,1063.5L1235.4,1053.5L1236.4,1053.3L1236.4,1063.7L1237.4,1063.6L1237.4,1053.2L1238.4,1053.0L1238.4,1063.4L1239.4,1063.2L1239.4,1052.8L1240.4,1052.7L1240.4,1063.1L1241.4,1063.3L1241.4,1052.2L1242.4,1050.8L1242.4,1063.5L1243.4,1063.7L1243.4,1048.6L1244.4,1046.3L1244.4,1063.6L1245.4,1063.0L1245.4,1044.1L1246.4,1041.8L1246.4,1062.4L1247.4,1061.8L1247.4,1040.4L1248.4,1039.0L1248.4,1061.4L1249.4,1061.5L1249.4,1037.6L1250.4,1036.2L1250.4,1061.6L1251.4,1061.8L1251.4,1034.8L1252.4,1034.1L1252.4,1061.9L1253.4,1062.0L1253.4,1033.3L1254.4,1034.3L1254.4,1062.1L1255.4,1062.1L1255.4,1036.4L1256.4,1040.4L1256.4,1062.2L1257.4,1062.2L1257.4,1044.0L1258.4,1045.0L1258.4,1062.3L1259.4,1062.3L1259.4,1045.7L1260.4,1046.3L1260.4,1062.4L1261.4,1062.4L1261.4,1047.0L1262.4,1047.2L1262.4,1062.6L1263.4,1062.7L1263.4,1047.0L1264.4,1046.2L1264.4,1062.9L1265.4,1063.0L1265.4,1042.2L1266.4,1040.3L1266.4,1063.0L1267.4,1062.9L1267.4,1041.3L1268.4,1044.0L1268.4,1062.9L1269.4,1062.8L1269.4,1047.5L1270.4,1048.2L1270.4,1062.7L1271.4,1062.7L1271.4,1048.4L1272.4,1048.4L1272.4,1062.6L1273.4,1062.5L1273.4,1048.5L1274.4,1048.5L1274.4,1062.5L1275.4,1062.6L1275.4,1048.5L1276.4,1048.0L1276.4,1062.7L1277.4,1062.9L1277.4,1047.4L1278.4,1046.8L1278.4,1063.0L1279.4,1063.1L1279.4,1046.6L1280.4,1047.0L1280.4,1063.2L1281.4,1063.3L1281.4,1047.3L1282.4,1047.6L1282.4,1063.4L1283.4,1063.3L1283.4,1047.7L1284.4,1047.6L1284.4,1063.0L1285.4,1062.8L1285.4,1047.5L1286.4,1047.4L1286.4,1062.6L1287.4,1062.3L1287.4,1047.3L1288.4,1047.1L1288.4,1062.1L1289.4,1061.9L1289.4,1046.9L1290.4,1046.6L1290.4,1061.7L1291.4,1061.5L1291.4,1046.5L1292.4,1047.0L1292.4,1061.5L1293.4,1061.6L1293.4,1047.5L1294.4,1048.0L1294.4,1061.6L1295.4,1061.6L1295.4,1048.4L1296.4,1048.9L1296.4,1061.6L1297.4,1061.7L1297.4,1049.4L1298.4,1049.9L1298.4,1061.8L1299.4,1061.9L1299.4,1050.3L1300.4,1050.5L1300.4,1062.0L1301.4,1062.0L1301.4,1050.5L1302.4,1050.5L1302.4,1061.9L1303.4,1061.9L1303.4,1050.5L1304.4,1050.5L1304.4,1061.9L1305.4,1062.1L1305.4,1050.3L1306.4,1049.7L1306.4,1062.8L1307.4,1063.5L1307.4,1049.1L1308.4,1048.5L1308.4,1064.3L1309.4,1065.0L1309.4,1048.1L1310.4,1048.2L1310.4,1065.1L1311.4,1065.2L1311.4,1048.3L1312.4,1048.3L1312.4,1065.2L1313.4,1065.3L1313.4,1048.5L1314.4,1048.7L1314.4,1065.3L1315.4,1065.4L1315.4,1048.9L1316.4,1049.1L1316.4,1065.5L1317.4,1065.1L1317.4,1049.2L1318.4,1048.9L1318.4,1064.5L1319.4,1064.0L1319.4,1048.3L1320.4,1047.6L1320.4,1063.4L1321.4,1063.1L1321.4,1046.9L1322.4,1046.2L1322.4,1063.1L1323.4,1063.1L1323.4,1046.0L1324.4,1045.8L1324.4,1063.1L1325.4,1063.1L1325.4,1045.6L1326.4,1045.5L1326.4,1062.8L1327.4,1062.5L1327.4,1045.3L1328.4,1045.1L1328.4,1062.2L1329.4,1061.9L1329.4,1044.6L1330.4,1043.2L1330.4,1061.7L1331.4,1061.5L1331.4,1041.2L1332.4,1040.0L1332.4,1061.3L1333.4,1061.2L1333.4,1039.7L1334.4,1040.3L1334.4,1061.0L1335.4,1060.8L1335.4,1041.0L1336.4,1046.3L1336.4,1060.6L1337.4,1060.4L1337.4,1047.8L1338.4,1048.3L1338.4,1060.2L1339.4,1060.3L1339.4,1048.3L1340.4,1047.9L1340.4,1060.5L1341.4,1060.6L1341.4,1047.6L1342.4,1047.3L1342.4,1060.8L1343.4,1061.0L1343.4,1046.9L1344.4,1046.6L1344.4,1061.3L1345.4,1061.6L1345.4,1046.3L1346.4,1046.1L1346.4,1062.0L1347.4,1062.3L1347.4,1045.9L1348.4,1045.7L1348.4,1062.6L1349.4,1063.0L1349.4,1045.6L1350.4,1045.4L1350.4,1063.3L1351.4,1063.8L1351.4,1045.2L1352.4,1045.0L1352.4,1064.3L1353.4,1064.8L1353.4,1044.1L1354.4,1042.0L1354.4,1065.0L1355.4,1064.8L1355.4,1039.7L1356.4,1037.4L1356.4,1064.5L1357.4,1064.4L1357.4,1036.6L1358.4,1036.1L1358.4,1064.5L1359.4,1064.5L1359.4,1035.6L1360.4,1035.9L1360.4,1064.6L1361.4,1064.2L1361.4,1036.8L1362.4,1037.7L1362.4,1063.7L1363.4,1063.3L1363.4,1039.5L1364.4,1041.5L1364.4,1063.1L1365.4,1063.0L1365.4,1042.6L1366.4,1043.0L1366.4,1063.0L1367.4,1062.9L1367.4,1042.9L1368.4,1042.4L1368.4,1062.9L1369.4,1063.0L1369.4,1041.9L1370.4,1041.4L1370.4,1063.5L1371.4,1064.0L1371.4,1041.9L1372.4,1042.6L1372.4,1064.6L1373.4,1065.1L1373.4,1043.5L1374.4,1045.5L1374.4,1065.4L1375.4,1065.5L1375.4,1047.5L1376.4,1049.5L1376.4,1065.6L1377.4,1065.1L1377.4,1051.5L1378.4,1052.4L1378.4,1064.4L1379.4,1063.7L1379.4,1052.6L1380.4,1052.4L1380.4,1063.1L1381.4,1062.7L1381.4,1051.8L1382.4,1051.2L1382.4,1062.8L1383.4,1062.9L1383.4,1050.5L1384.4,1049.8L1384.4,1062.9L1385.4,1063.0L1385.4,1049.2L1386.4,1048.5L1386.4,1063.1L1387.4,1063.3L1387.4,1047.9L1388.4,1047.3L1388.4,1063.5L1389.4,1063.7L1389.4,1046.8L1390.4,1046.3L1390.4,1063.9L1391.4,1063.7L1391.4,1046.1L1392.4,1046.2L1392.4,1063.5L1393.4,1063.3L1393.4,1046.2L1394.4,1046.4L1394.4,1063.1L1395.4,1062.9L1395.4,1046.8L1396.4,1047.2L1396.4,1063.1L1397.4,1063.4L1397.4,1047.6L1398.4,1047.9L1398.4,1063.7L1399.4,1063.9L1399.4,1048.3L1400.4,1048.3L1400.4,1064.2L1401.4,1064.5L1401.4,1048.0L1402.4,1047.5L1402.4,1064.9L1403.4,1065.2L1403.4,1047.0L1404.4,1046.5L1404.4,1065.6L1405.4,1065.7L1405.4,1046.0L1406.4,1045.5L1406.4,1065.8L1407.4,1065.8L1407.4,1045.0L1408.4,1044.5L1408.4,1065.9L1409.4,1065.9L1409.4,1044.0L1410.4,1043.5L1410.4,1065.9L1411.4,1066.0L1411.4,1043.0L1412.4,1042.5L1412.4,1065.9L1413.4,1065.2L1413.4,1043.1L1414.4,1043.9L1414.4,1064.5L1415.4,1063.8L1415.4,1044.7L1416.4,1045.0L1416.4,1063.2L1417.4,1063.0L1417.4,1045.1L1418.4,1045.1L1418.4,1062.9L1419.4,1062.7L1419.4,1045.1L1420.4,1045.2L1420.4,1062.6L1421.4,1062.5L1421.4,1044.8L1422.4,1043.9L1422.4,1062.4L1423.4,1062.4L1423.4,1040.7L1424.4,1037.4L1424.4,1062.3L1425.4,1062.2L1425.4,1034.1L1426.4,1032.9L1426.4,1062.1L1427.4,1061.9L1427.4,1032.2L1428.4,1032.7L1428.4,1061.8L1429.4,1061.9L1429.4,1033.7L1430.4,1035.2L1430.4,1061.9L1431.4,1062.0L1431.4,1038.2L1432.4,1041.2L1432.4,1061.9L1433.4,1061.6L1433.4,1044.0L1434.4,1044.9L1434.4,1061.3L1435.4,1061.1L1435.4,1045.1L1436.4,1044.9L1436.4,1061.2L1437.4,1061.5L1437.4,1044.2L1438.4,1043.4L1438.4,1061.9L1439.4,1062.2L1439.4,1042.6L1440.4,1042.5L1440.4,1062.5L1441.4,1062.7L1441.4,1042.8L1442.4,1043.3L1442.4,1062.9L1443.4,1063.1L1443.4,1044.2L1444.4,1045.0L1444.4,1063.1L1445.4,1063.1L1445.4,1045.8L1446.4,1046.7L1446.4,1063.1L1447.4,1063.1L1447.4,1047.5L1448.4,1048.1L1448.4,1063.3L1449.4,1063.5L1449.4,1048.4L1450.4,1048.1L1450.4,1063.7L1451.4,1064.0L1451.4,1047.8L1452.4,1047.5L1452.4,1064.2L1453.4,1064.5L1453.4,1047.1L1454.4,1046.8L1454.4,1064.8L1455.4,1065.1L1455.4,1046.5L1456.4,1046.1L1456.4,1065.3L1457.4,1065.3L1457.4,1045.5L1458.4,1044.1L1458.4,1065.3L1459.4,1065.2L1459.4,1042.6L1460.4,1041.1L1460.4,1065.2L1461.4,1065.2L1461.4,1039.6L1462.4,1038.1L1462.4,1065.1L1463.4,1065.1L1463.4,1036.6L1464.4,1035.6L1464.4,1065.2L1465.4,1065.4L1465.4,1035.0L1466.4,1035.8L1466.4,1065.5L1467.4,1065.7L1467.4,1036.5L1468.4,1040.8L1468.4,1065.8L1469.4,1065.8L1469.4,1045.8L1470.4,1047.8L1470.4,1065.7L1471.4,1065.2L1471.4,1048.3L1472.4,1048.4L1472.4,1064.7L1473.4,1064.1L1473.4,1048.4L1474.4,1048.3L1474.4,1063.9L1475.4,1064.1L1475.4,1048.6L1476.4,1049.2L1476.4,1064.4L1477.4,1064.5L1477.4,1049.8L1478.4,1050.3L1478.4,1063.8L1479.4,1063.0L1479.4,1050.5L1480.4,1050.3L1480.4,1062.3L1481.4,1062.0L1481.4,1050.0L1482.4,1049.6L1482.4,1062.0L1483.4,1061.9L1483.4,1049.3L1484.4,1049.0L1484.4,1061.9L1485.4,1061.9L1485.4,1048.6L1486.4,1049.3L1486.4,1062.3L1487.4,1063.3L1487.4,1050.0L1488.4,1050.6L1488.4,1064.3L1489.4,1065.3L1489.4,1051.3L1490.4,1052.0L1490.4,1065.4L1491.4,1065.3L1491.4,1052.5L1492.4,1052.6L1492.4,1064.9L1493.4,1064.5L1493.4,1052.4L1494.4,1052.0L1494.4,1064.0L1495.4,1063.7L1495.4,1051.6L1496.4,1051.3L1496.4,1063.8L1497.4,1064.1L1497.4,1050.9L1498.4,1050.5L1498.4,1064.5L1499.4,1064.6L1499.4,1050.1L1500.4,1049.7L1500.4,1064.1L1501.4,1063.6L1501.4,1050.3L1502.4,1050.9L1502.4,1063.1L1503.4,1062.9L1503.4,1051.5L1504.4,1052.0L1504.4,1062.8L1505.4,1062.6L1505.4,1052.2L1506.4,1052.3L1506.4,1062.4L1507.4,1062.3L1507.4,1052.4L1508.4,1052.6L1508.4,1062.5L1509.4,1062.8L1509.4,1052.6L1510.4,1052.4L1510.4,1063.1L1511.4,1063.3L1511.4,1051.9L1512.4,1051.5L1512.4,1063.6L1513.4,1064.2L1513.4,1051.0L1514.4,1050.8L1514.4,1064.8L1515.4,1065.4L1515.4,1050.7L1516.4,1050.6L1516.4,1065.8L1517.4,1065.7L1517.4,1050.4L1518.4,1049.9L1518.4,1065.5L1519.4,1065.3L1519.4,1048.6L1520.4,1047.2L1520.4,1064.8L1521.4,1064.3L1521.4,1045.8L1522.4,1044.4L1522.4,1063.8L1523.4,1063.3L1523.4,1043.0L1524.4,1042.0L1524.4,1063.1L1525.4,1063.3L1525.4,1041.8L1526.4,1042.8L1526.4,1063.5L1527.4,1063.6L1527.4,1045.4L1528.4,1048.4L1528.4,1063.8L1529.4,1063.3L1529.4,1049.9L1530.4,1050.4L1530.4,1062.9L1531.4,1062.5L1531.4,1050.4L1532.4,1049.9L1532.4,1062.1L1533.4,1062.1L1533.4,1049.2L1534.4,1048.6L1534.4,1062.5L1535.4,1063.0L1535.4,1047.9L1536.4,1047.2L1536.4,1063.6L1537.4,1064.1L1537.4,1046.6L1538.4,1045.9L1538.4,1064.6L1539.4,1064.9L1539.4,1044.4L1540.4,1039.2L1540.4,1065.2L1541.4,1065.6L1541.4,1033.7L1542.4,1032.9L1542.4,1065.7L1543.4,1065.8L1543.4,1033.0L1544.4,1034.0L1544.4,1065.8L1545.4,1065.9L1545.4,1037.4L1546.4,1041.9L1546.4,1065.9L1547.4,1065.9L1547.4,1044.5L1548.4,1045.5L1548.4,1065.9L1549.4,1066.0L1549.4,1046.5L1550.4,1047.5L1550.4,1066.0L1551.4,1066.1L1551.4,1048.5L1552.4,1049.5L1552.4,1066.2L1553.4,1066.3L1553.4,1050.3L1554.4,1050.6L1554.4,1066.1L1555.4,1065.6L1555.4,1050.9L1556.4,1051.2L1556.4,1065.1L1557.4,1064.6L1557.4,1051.5L1558.4,1051.8L1558.4,1064.3L1559.4,1064.3L1559.4,1052.0L1560.4,1052.2L1560.4,1064.2L1561.4,1064.2L1561.4,1052.4L1562.4,1052.6L1562.4,1064.2L1563.4,1064.0L1563.4,1052.7L1564.4,1052.8L1564.4,1063.8L1565.4,1063.5L1565.4,1052.8L1566.4,1052.9L1566.4,1063.3L1567.4,1063.1L1567.4,1052.9L1568.4,1052.6L1568.4,1062.8L1569.4,1062.5L1569.4,1052.0L1570.4,1051.5L1570.4,1062.2L1571.4,1062.0L1571.4,1050.9L1572.4,1050.4L1572.4,1062.2L1573.4,1062.5L1573.4,1050.2L1574.4,1050.2L1574.4,1062.8L1575.4,1063.1L1575.4,1051.3L1576.4,1052.3L1576.4,1063.4L1577.4,1063.7L1577.4,1053.3L1578.4,1053.6L1578.4,1064.0L1579.4,1064.3L1579.4,1053.7L1580.4,1053.7L1580.4,1064.6L1581.4,1064.9L1581.4,1053.7L1582.4,1053.9L1582.4,1065.2L1583.4,1065.5L1583.4,1054.1L1584.4,1054.4L1584.4,1065.8L1585.4,1065.7L1585.4,1054.6L1586.4,1054.5L1586.4,1065.5L1587.4,1065.4L1587.4,1054.1L1588.4,1053.6L1588.4,1065.2L1589.4,1065.1L1589.4,1053.2L1590.4,1052.7L1590.4,1065.1L1591.4,1065.0L1591.4,1052.3L1592.4,1052.0L1592.4,1064.9L1593.4,1064.9L1593.4,1051.6L1594.4,1051.7L1594.4,1064.9L1595.4,1065.2L1595.4,1051.7L1596.4,1051.8L1596.4,1065.5L1597.4,1065.8L1597.4,1051.6L1598.4,1051.0L1598.4,1066.1L1599.4,1066.1L1599.4,1050.4L1600.4,1049.7L1600.4,1065.9L1601.4,1065.7L1601.4,1049.2L1602.4,1048.9L1602.4,1065.5L1603.4,1065.1L1603.4,1048.6L1604.4,1049.2L1604.4,1064.6L1605.4,1064.1L1605.4,1049.7L1606.4,1050.2L1606.4,1063.7L1607.4,1063.5L1607.4,1050.5L1608.4,1050.8L1608.4,1063.8L1609.4,1064.2L1609.4,1051.0L1610.4,1051.3L1610.4,1064.7L1611.4,1064.4L1611.4,1051.2L1612.4,1051.0L1612.4,1063.8L1613.4,1063.3L1613.4,1050.8L1614.4,1050.6L1614.4,1063.1L1615.4,1063.0L1615.4,1050.4L1616.4,1050.1L1616.4,1062.9L1617.4,1062.9L1617.4,1049.9L1618.4,1049.9L1618.4,1062.8L1619.4,1062.7L1619.4,1050.2L1620.4,1050.4L1620.4,1062.6L1621.4,1062.5L1621.4,1050.9L1622.4,1051.5L1622.4,1062.4L1623.4,1062.4L1623.4,1052.1L1624.4,1052.5L1624.4,1062.6L1625.4,1062.7L1625.4,1052.6L1626.4,1052.3L1626.4,1062.9L1627.4,1063.1L1627.4,1052.0L1628.4,1051.6L1628.4,1063.3L1629.4,1063.5L1629.4,1051.2L1630.4,1050.9L1630.4,1063.7L1631.4,1063.9L1631.4,1050.5L1632.4,1050.1L1632.4,1064.2L1633.4,1064.5L1633.4,1049.7L1634.4,1049.3L1634.4,1064.7L1635.4,1065.0L1635.4,1048.7L1636.4,1046.8L1636.4,1065.1L1637.4,1065.0L1637.4,1044.8L1638.4,1042.8L1638.4,1064.9L1639.4,1064.5L1639.4,1042.3L1640.4,1043.2L1640.4,1064.0L1641.4,1063.4L1641.4,1044.6L1642.4,1048.1L1642.4,1063.0L1643.4,1062.9L1643.4,1051.4L1644.4,1052.4L1644.4,1063.0L1645.4,1063.0L1645.4,1052.8L1646.4,1053.3L1646.4,1063.1L1647.4,1063.0L1647.4,1053.7L1648.4,1054.1L1648.4,1062.9L1649.4,1062.8L1649.4,1054.5L1650.4,1054.7L1650.4,1062.7L1651.4,1062.6L1651.4,1054.5L1652.4,1054.3L1652.4,1062.6L1653.4,1062.5L1653.4,1054.1L1654.4,1053.9L1654.4,1062.5L1655.4,1062.5L1655.4,1053.7L1656.4,1053.3L1656.4,1062.5L1657.4,1062.4L1657.4,1052.5L1658.4,1051.7L1658.4,1062.4L1659.4,1062.4L1659.4,1050.8L1660.4,1050.0L1660.4,1062.7L1661.4,1063.4L1661.4,1049.2L1662.4,1048.3L1662.4,1064.2L1663.4,1065.0L1663.4,1047.5L1664.4,1046.5L1664.4,1065.5L1665.4,1065.2L1665.4,1046.8L1666.4,1048.3L1666.4,1064.9L1667.4,1064.7L1667.4,1050.8L1668.4,1052.9L1668.4,1064.5L1669.4,1064.4L1669.4,1053.6L1670.4,1053.7L1670.4,1064.2L1671.4,1064.1L1671.4,1053.4L1672.4,1052.9L1672.4,1064.0L1673.4,1064.3L1673.4,1052.4L1674.4,1051.9L1674.4,1064.6L1675.4,1064.9L1675.4,1051.4L1676.4,1050.9L1676.4,1065.2L1677.4,1065.0L1677.4,1050.4L1678.4,1049.7L1678.4,1064.7L1679.4,1064.4L1679.4,1048.9L1680.4,1048.2L1680.4,1064.0L1681.4,1063.5L1681.4,1048.3L1682.4,1049.1L1682.4,1063.0L1683.4,1062.5L1683.4,1049.8L1684.4,1050.6L1684.4,1062.1L1685.4,1061.9L1685.4,1051.3L1686.4,1052.1L1686.4,1062.2L1687.4,1062.5L1687.4,1052.8L1688.4,1053.5L1688.4,1062.7L1689.4,1063.0L1689.4,1053.7L1690.4,1053.5L1690.4,1063.3L1691.4,1063.5L1691.4,1053.0L1692.4,1052.5L1692.4,1063.8L1693.4,1064.0L1693.4,1052.0L1694.4,1051.5L1694.4,1064.3L1695.4,1064.6L1695.4,1051.0L1696.4,1050.5L1696.4,1064.8L1697.4,1065.1L1697.4,1049.9L1698.4,1049.2L1698.4,1065.4L1699.4,1065.5L1699.4,1048.4L1700.4,1048.1L1700.4,1065.6L1701.4,1065.7L1701.4,1048.9L1702.4,1049.6L1702.4,1065.6L1703.4,1065.2L1703.4,1050.4L1704.4,1051.1L1704.4,1064.7L1705.4,1064.3L1705.4,1051.9L1706.4,1052.6L1706.4,1064.1L1707.4,1064.2L1707.4,1053.4L1708.4,1053.7L1708.4,1064.5L1709.4,1064.7L1709.4,1053.9L1710.4,1054.0L1710.4,1065.0L1711.4,1065.0L1711.4,1054.1L1712.4,1054.3L1712.4,1064.8L1713.4,1064.6L1713.4,1054.3L1714.4,1053.9L1714.4,1064.4L1715.4,1064.6L1715.4,1053.5L1716.4,1053.2L1716.4,1065.3L1717.4,1066.1L1717.4,1052.9L1718.4,1053.2L1718.4,1066.8L1719.4,1066.4L1719.4,1053.6L1720.4,1053.9L1720.4,1066.1L1721.4,1065.9L1721.4,1054.2L1722.4,1054.3L1722.4,1065.9L1723.4,1065.9L1723.4,1054.5L1724.4,1054.6L1724.4,1065.9L1725.4,1065.9L1725.4,1054.8L1726.4,1054.9L1726.4,1065.8L1727.4,1065.7L1727.4,1055.0L1728.4,1055.2L1728.4,1065.5L1729.4,1065.4L1729.4,1055.3L1730.4,1055.4L1730.4,1065.1L1731.4,1064.8L1731.4,1055.1L1732.4,1054.7L1732.4,1064.4L1733.4,1064.1L1733.4,1054.3L1734.4,1053.9L1734.4,1063.9L1735.4,1064.0L1735.4,1053.5L1736.4,1052.9L1736.4,1064.1L1737.4,1064.2L1737.4,1052.2L1738.4,1051.5L1738.4,1064.3L1739.4,1064.3L1739.4,1050.7L1740.4,1050.7L1740.4,1064.3L1741.4,1064.2L1741.4,1050.6L1742.4,1050.6L1742.4,1064.2L1743.4,1064.2L1743.4,1050.5L1744.4,1050.1L1744.4,1064.4L1745.4,1064.6L1745.4,1049.5L1746.4,1048.9L1746.4,1064.7L1747.4,1064.8L1747.4,1048.3L1748.4,1048.1L1748.4,1064.6L1749.4,1064.3L1749.4,1048.2L1750.4,1048.3L1750.4,1064.1L1751.4,1063.9L1751.4,1048.8L1752.4,1049.6L1752.4,1064.0L1753.4,1064.5L1753.4,1050.3L1754.4,1051.1L1754.4,1064.9L1755.4,1065.4L1755.4,1051.5L1756.4,1051.5L1756.4,1065.8L1757.4,1066.0L1757.4,1051.1L1758.4,1050.6L1758.4,1066.2L1759.4,1066.4L1759.4,1050.1L1760.4,1049.6L1760.4,1066.4L1761.4,1066.1L1761.4,1049.1L1762.4,1048.6L1762.4,1065.8L1763.4,1065.4L1763.4,1048.1L1764.4,1047.8L1764.4,1065.1L1765.4,1064.8L1765.4,1047.5L1766.4,1047.1L1766.4,1064.5L1767.4,1064.2L1767.4,1046.8L1768.4,1046.5L1768.4,1063.9L1769.4,1063.9L1769.4,1046.9L1770.4,1047.4L1770.4,1063.9L1771.4,1063.9L1771.4,1047.9L1772.4,1048.4L1772.4,1063.9L1773.4,1064.0L1773.4,1048.9L1774.4,1049.3L1774.4,1064.3L1775.4,1064.7L1775.4,1049.4L1776.4,1049.1L1776.4,1065.1L1777.4,1065.5L1777.4,1048.6L1778.4,1048.1L1778.4,1065.9L1779.4,1066.3L1779.4,1047.6L1780.4,1047.1L1780.4,1066.7L1781.4,1067.0L1781.4,1046.8L1782.4,1046.4L1782.4,1066.9L1783.4,1066.5L1783.4,1046.1L1784.4,1045.8L1784.4,1066.2L1785.4,1065.9L1785.4,1045.4L1786.4,1045.5L1786.4,1065.9L1787.4,1065.9L1787.4,1045.8L1788.4,1046.1L1788.4,1065.9L1789.4,1065.9L1789.4,1046.5L1790.4,1046.8L1790.4,1065.9L1791.4,1065.7L1791.4,1047.1L1792.4,1047.3L1792.4,1065.5L1793.4,1065.4L1793.4,1047.3L1794.4,1047.3L1794.4,1065.2L1795.4,1065.1L1795.4,1047.3L1796.4,1047.2L1796.4,1065.2L1797.4,1065.4L1797.4,1047.0L1798.4,1046.7L1798.4,1065.6L1799.4,1065.7L1799.4,1046.5L1800.4,1046.3L1800.4,1065.8L1801.4,1065.8L1801.4,1046.3L1802.4,1046.3L1802.4,1065.8L1803.4,1065.8L1803.4,1046.3L1804.4,1046.3L1804.4,1065.8L1805.4,1065.8L1805.4,1046.3L1806.4,1046.3L1806.4,1065.8L1807.4,1065.8L1807.4,1046.3L1808.4,1046.3L1808.4,1065.8L1809.4,1065.8L1809.4,1046.3L1810.4,1046.3L1810.4,1065.8L1811.4,1065.8L1811.4,1046.3L1812.4,1046.3L1812.4,1065.8L1813.4,1065.8L1813.4,1046.3L1814.4,1046.3L1814.4,1065.8L1815.4,1065.8L1815.4,1046.3" fill="none" stroke="#000" stroke-width="5" stroke-linejoin="round" stroke-linecap="round"/>
<g font-size="80" text-anchor="end">
<text transform="translate(304.20,1086.80) scale(0.98,1)" text-anchor="end">0</text>
<text transform="translate(304.20,831.15) scale(0.98,1)" text-anchor="end">200</text>
<text transform="translate(304.20,575.50) scale(0.98,1)" text-anchor="end">400</text>
<text transform="translate(304.20,319.85) scale(0.98,1)" text-anchor="end">600</text>
<text transform="translate(304.20,64.20) scale(0.98,1)" text-anchor="end">800</text>
</g>
<g font-size="81.0" text-anchor="middle">
<text transform="translate(339.20,1223.90) scale(0.99,1)">20</text>
<text transform="translate(585.07,1223.90) scale(0.99,1)">25</text>
<text transform="translate(830.93,1223.90) scale(0.99,1)">30</text>
<text transform="translate(1076.80,1223.90) scale(0.99,1)">35</text>
<text transform="translate(1322.67,1223.90) scale(0.99,1)">40</text>
<text transform="translate(1568.53,1223.90) scale(0.99,1)">45</text>
<text transform="translate(1814.40,1223.90) scale(0.99,1)">50</text>
</g>
<text transform="translate(1076.2,1346) scale(0.978,1)" font-size="117.5" text-anchor="middle">2-Theta (Degree)</text>
<text transform="translate(97,618.6) rotate(-90) scale(0.993,1)" font-size="117.5" text-anchor="middle">Intensity (a.u.)</text>
 <text transform="translate(1523.4,792) scale(0.996,1)" font-size="76.3" text-anchor="middle">Nanopyramids</text>
<text transform="translate(1506.4,1022.9) scale(0.995,1)" font-size="75.8" text-anchor="middle">Thin film</text>
<rect x="991.60" y="79.00" width="734.70" height="540.30" fill="#fff"/>
<g stroke="#000" fill="none" stroke-linecap="round">
<line x1="991.60" y1="79.00" x2="1726.30" y2="79.00" stroke-width="6.80"/>
<line x1="991.60" y1="619.30" x2="1726.30" y2="619.30" stroke-width="6.80"/>
<line x1="991.60" y1="79.00" x2="991.60" y2="619.30" stroke-width="8.40" stroke-linecap="butt"/>
<line x1="1726.30" y1="79.00" x2="1726.30" y2="619.30" stroke-width="8.40" stroke-linecap="butt"/>
</g>
<g stroke="#000" stroke-width="7.4" fill="none" stroke-linecap="round">
<line x1="991.60" y1="620.30" x2="991.60" y2="629.30"/>
<line x1="1052.83" y1="620.30" x2="1052.83" y2="624.50"/>
<line x1="1114.05" y1="620.30" x2="1114.05" y2="629.30"/>
<line x1="1175.28" y1="620.30" x2="1175.28" y2="624.50"/>
<line x1="1236.50" y1="620.30" x2="1236.50" y2="629.30"/>
<line x1="1297.72" y1="620.30" x2="1297.72" y2="624.50"/>
<line x1="1358.95" y1="620.30" x2="1358.95" y2="629.30"/>
<line x1="1420.17" y1="620.30" x2="1420.17" y2="624.50"/>
<line x1="1481.40" y1="620.30" x2="1481.40" y2="629.30"/>
<line x1="1542.62" y1="620.30" x2="1542.62" y2="624.50"/>
<line x1="1603.85" y1="620.30" x2="1603.85" y2="629.30"/>
<line x1="1665.07" y1="620.30" x2="1665.07" y2="624.50"/>
<line x1="1726.30" y1="620.30" x2="1726.30" y2="629.30"/>
</g>
<path d="M991.6,422.9L991.6,442.7L992.6,438.5L992.6,422.8L993.6,422.3L993.6,435.0L994.6,431.5L994.6,420.6L995.6,416.8L995.6,427.9L996.6,425.6L996.6,412.9L997.6,411.0L997.6,425.0L998.6,424.8L998.6,411.2L999.6,412.2L999.6,425.0L1000.6,425.5L1000.6,414.7L1001.6,418.1L1001.6,427.2L1002.6,431.1L1002.6,421.5L1003.6,423.9L1003.6,435.0L1004.6,438.9L1004.6,425.0L1005.6,426.2L1005.6,442.0L1006.6,445.0L1006.6,427.3L1007.6,428.3L1007.6,447.9L1008.6,447.1L1008.6,428.7L1009.6,428.8L1009.6,445.5L1010.6,444.1L1010.6,428.8L1011.6,428.8L1011.6,443.3L1012.6,442.6L1012.6,428.8L1013.6,428.8L1013.6,441.8L1014.6,441.1L1014.6,428.8L1015.6,428.7L1015.6,440.5L1016.6,439.8L1016.6,428.2L1017.6,426.6L1017.6,439.1L1018.6,435.3L1018.6,420.3L1019.6,416.8L1019.6,429.6L1020.6,424.0L1020.6,415.8L1021.6,414.9L1021.6,421.1L1022.6,420.5L1022.6,414.0L1023.6,413.0L1023.6,420.3L1024.6,420.5L1024.6,412.1L1025.6,411.6L1025.6,421.1L1026.6,423.3L1026.6,420.4L1027.6,426.8L1027.6,436.1L1028.6,440.9L1028.6,427.7L1029.6,428.2L1029.6,441.2L1030.6,441.4L1030.6,428.6L1031.6,429.1L1031.6,441.7L1032.6,441.9L1032.6,429.5L1033.6,429.6L1033.6,442.5L1034.6,443.9L1034.6,429.3L1035.6,428.5L1035.6,445.6L1036.6,447.4L1036.6,425.0L1037.6,419.7L1037.6,447.2L1038.6,443.0L1038.6,414.4L1039.6,410.1L1039.6,436.7L1040.6,431.2L1040.6,405.8L1041.6,401.4L1041.6,430.1L1042.6,429.7L1042.6,397.8L1043.6,397.8L1043.6,429.7L1044.6,429.7L1044.6,405.1L1045.6,417.6L1045.6,429.7L1046.6,429.7L1046.6,419.3L1047.6,419.8L1047.6,429.7L1048.6,429.7L1048.6,419.9L1049.6,419.6L1049.6,429.7L1050.6,429.7L1050.6,418.8L1051.6,417.9L1051.6,429.7L1052.6,429.7L1052.6,417.6L1053.6,418.9L1053.6,429.7L1054.6,429.7L1054.6,420.0L1055.6,420.8L1055.6,429.7L1056.6,429.7L1056.6,421.6L1057.6,422.4L1057.6,429.7L1058.6,429.9L1058.6,423.0L1059.6,423.1L1059.6,430.5L1060.6,431.9L1060.6,423.0L1061.6,422.3L1061.6,433.4L1062.6,434.9L1062.6,421.1L1063.6,419.9L1063.6,435.3L1064.6,435.6L1064.6,418.7L1065.6,417.5L1065.6,435.7L1066.6,435.0L1066.6,416.3L1067.6,415.1L1067.6,434.3L1068.6,433.7L1068.6,413.9L1069.6,412.7L1069.6,433.1L1070.6,432.8L1070.6,411.5L1071.6,409.7L1071.6,432.4L1072.6,432.2L1072.6,404.8L1073.6,399.6L1073.6,432.3L1074.6,432.6L1074.6,397.4L1075.6,396.6L1075.6,433.2L1076.6,433.8L1076.6,396.7L1077.6,396.7L1077.6,434.4L1078.6,434.9L1078.6,396.8L1079.6,396.8L1079.6,435.3L1080.6,435.3L1080.6,396.8L1081.6,396.9L1081.6,435.3L1082.6,435.3L1082.6,396.9L1083.6,396.8L1083.6,435.3L1084.6,435.3L1084.6,396.8L1085.6,396.7L1085.6,435.3L1086.6,435.3L1086.6,396.7L1087.6,396.7L1087.6,435.2L1088.6,434.4L1088.6,396.6L1089.6,397.2L1089.6,433.7L1090.6,432.9L1090.6,398.4L1091.6,404.2L1091.6,432.2L1092.6,431.4L1092.6,407.6L1093.6,408.4L1093.6,430.7L1094.6,429.9L1094.6,408.8L1095.6,409.2L1095.6,429.2L1096.6,428.5L1096.6,409.6L1097.6,409.9L1097.6,428.1L1098.6,428.1L1098.6,410.3L1099.6,410.7L1099.6,428.1L1100.6,428.1L1100.6,411.5L1101.6,412.4L1101.6,428.1L1102.6,428.5L1102.6,413.3L1103.6,414.2L1103.6,429.2L1104.6,429.9L1104.6,415.1L1105.6,416.0L1105.6,430.7L1106.6,431.6L1106.6,416.9L1107.6,417.9L1107.6,437.1L1108.6,447.1L1108.6,418.9L1109.6,419.9L1109.6,448.4L1110.6,447.8L1110.6,420.8L1111.6,421.3L1111.6,447.2L1112.6,446.8L1112.6,421.5L1113.6,421.3L1113.6,446.7L1114.6,447.0L1114.6,420.8L1115.6,420.3L1115.6,447.4L1116.6,447.8L1116.6,419.7L1117.6,418.9L1117.6,446.8L1118.6,441.5L1118.6,406.7L1119.6,391.1L1119.6,434.2L1120.6,429.1L1120.6,393.0L1121.6,395.8L1121.6,428.0L1122.6,427.6L1122.6,398.6L1123.6,401.4L1123.6,427.6L1124.6,428.0L1124.6,405.0L1125.6,410.5L1125.6,429.1L1126.6,431.1L1126.6,416.0L1127.6,420.9L1127.6,433.1L1128.6,434.2L1128.6,422.6L1129.6,423.1L1129.6,435.1L1130.6,435.0L1130.6,423.2L1131.6,423.2L1131.6,434.7L1132.6,432.4L1132.6,423.2L1133.6,423.2L1133.6,430.2L1134.6,428.3L1134.6,422.9L1135.6,422.1L1135.6,427.7L1136.6,427.4L1136.6,415.1L1137.6,399.7L1137.6,427.5L1138.6,427.9L1138.6,384.4L1139.6,383.2L1139.6,428.4L1140.6,427.9L1140.6,381.9L1141.6,380.7L1141.6,427.2L1142.6,424.4L1142.6,379.5L1143.6,378.6L1143.6,418.4L1144.6,416.8L1144.6,379.7L1145.6,381.0L1145.6,416.2L1146.6,416.0L1146.6,382.3L1147.6,383.6L1147.6,416.0L1148.6,416.0L1148.6,384.4L1149.6,385.2L1149.6,416.0L1150.6,416.2L1150.6,385.9L1151.6,386.7L1151.6,416.8L1152.6,418.6L1152.6,387.4L1153.6,388.2L1153.6,420.9L1154.6,423.1L1154.6,388.9L1155.6,389.7L1155.6,422.1L1156.6,420.9L1156.6,390.5L1157.6,391.3L1157.6,419.1L1158.6,417.1L1158.6,392.1L1159.6,392.9L1159.6,415.4L1160.6,414.7L1160.6,393.7L1161.6,394.2L1161.6,414.4L1162.6,414.4L1162.6,394.3L1163.6,394.0L1163.6,414.4L1164.6,414.4L1164.6,393.2L1165.6,390.6L1165.6,414.4L1166.6,414.4L1166.6,385.8L1167.6,381.0L1167.6,414.4L1168.6,414.4L1168.6,376.2L1169.6,372.9L1169.6,414.4L1170.6,414.4L1170.6,374.8L1171.6,380.6L1171.6,414.4L1172.6,414.4L1172.6,383.5L1173.6,384.2L1173.6,414.4L1174.6,414.6L1174.6,384.5L1175.6,384.7L1175.6,415.1L1176.6,416.8L1176.6,384.9L1177.6,385.4L1177.6,420.8L1178.6,421.6L1178.6,386.4L1179.6,387.2L1179.6,420.1L1180.6,417.1L1180.6,387.5L1181.6,387.4L1181.6,414.1L1182.6,411.1L1182.6,386.9L1183.6,385.4L1183.6,409.5L1184.6,408.0L1184.6,364.0L1185.6,362.1L1185.6,406.5L1186.6,405.3L1186.6,360.7L1187.6,359.2L1187.6,404.8L1188.6,404.5L1188.6,359.8L1189.6,361.2L1189.6,404.2L1190.6,403.9L1190.6,362.7L1191.6,363.8L1191.6,399.5L1192.6,391.5L1192.6,364.4L1193.6,365.1L1193.6,390.7L1194.6,390.4L1194.6,365.7L1195.6,366.3L1195.6,390.5L1196.6,391.0L1196.6,366.9L1197.6,367.6L1197.6,392.7L1198.6,396.7L1198.6,368.1L1199.6,368.3L1199.6,400.7L1200.6,402.1L1200.6,368.1L1201.6,367.5L1201.6,401.4L1202.6,395.1L1202.6,365.1L1203.6,360.7L1203.6,387.1L1204.6,381.9L1204.6,356.3L1205.6,352.7L1205.6,380.8L1206.6,380.1L1206.6,351.8L1207.6,351.9L1207.6,379.4L1208.6,378.8L1208.6,352.2L1209.6,352.5L1209.6,378.1L1210.6,377.4L1210.6,352.5L1211.6,352.1L1211.6,376.8L1212.6,376.1L1212.6,351.6L1213.6,351.2L1213.6,375.7L1214.6,375.7L1214.6,351.7L1215.6,353.9L1215.6,376.1L1216.6,377.2L1216.6,356.9L1217.6,359.4L1217.6,384.2L1218.6,393.3L1218.6,360.2L1219.6,360.5L1219.6,404.3L1220.6,408.4L1220.6,360.4L1221.6,359.9L1221.6,404.0L1222.6,395.0L1222.6,358.5L1223.6,356.5L1223.6,360.4L1224.6,358.7L1224.6,354.5L1225.6,352.5L1225.6,358.1L1226.6,357.6L1226.6,349.9L1227.6,320.2L1227.6,357.1L1228.6,356.7L1228.6,300.9L1229.6,298.9L1229.6,356.6L1230.6,356.9L1230.6,297.1L1231.6,295.2L1231.6,357.7L1232.6,359.0L1232.6,297.9L1233.6,310.9L1233.6,360.4L1234.6,361.7L1234.6,315.5L1235.6,316.3L1235.6,363.0L1236.6,363.4L1236.6,316.6L1237.6,316.5L1237.6,363.6L1238.6,362.7L1238.6,316.1L1239.6,315.6L1239.6,359.5L1240.6,333.1L1240.6,315.1L1241.6,314.5L1241.6,332.0L1242.6,331.6L1242.6,312.9L1243.6,269.2L1243.6,331.6L1244.6,331.6L1244.6,268.6L1245.6,271.0L1245.6,331.6L1246.6,331.6L1246.6,277.0L1247.6,279.6L1247.6,331.6L1248.6,331.0L1248.6,280.2L1249.6,280.4L1249.6,330.2L1250.6,329.5L1250.6,280.2L1251.6,279.7L1251.6,329.3L1252.6,329.3L1252.6,279.1L1253.6,278.5L1253.6,329.9L1254.6,331.5L1254.6,277.9L1255.6,277.2L1255.6,346.5L1256.6,352.5L1256.6,276.3L1257.6,275.5L1257.6,355.2L1258.6,356.1L1258.6,274.7L1259.6,276.4L1259.6,357.0L1260.6,357.4L1260.6,280.7L1261.6,284.5L1261.6,353.4L1262.6,337.4L1262.6,285.6L1263.6,286.0L1263.6,328.0L1264.6,321.6L1264.6,286.0L1265.6,285.6L1265.6,316.2L1266.6,315.0L1266.6,285.0L1267.6,284.3L1267.6,314.0L1268.6,313.0L1268.6,283.6L1269.6,283.0L1269.6,312.0L1270.6,311.1L1270.6,282.3L1271.6,280.6L1271.6,310.7L1272.6,310.7L1272.6,263.1L1273.6,253.4L1273.6,311.1L1274.6,312.2L1274.6,243.8L1275.6,241.7L1275.6,314.4L1276.6,316.7L1276.6,241.6L1277.6,284.1L1277.6,318.3L1278.6,319.4L1278.6,293.3L1279.6,293.9L1279.6,320.5L1280.6,321.6L1280.6,294.1L1281.6,293.9L1281.6,322.8L1282.6,323.9L1282.6,293.6L1283.6,293.2L1283.6,325.6L1284.6,334.5L1284.6,292.9L1285.6,292.5L1285.6,344.8L1286.6,356.7L1286.6,292.0L1287.6,290.3L1287.6,370.7L1288.6,383.8L1288.6,263.7L1289.6,262.8L1289.6,383.1L1290.6,374.9L1290.6,262.0L1291.6,270.6L1291.6,340.9L1292.6,325.1L1292.6,287.6L1293.6,288.7L1293.6,320.1L1294.6,315.1L1294.6,289.1L1295.6,289.1L1295.6,311.4L1296.6,310.6L1296.6,288.7L1297.6,287.6L1297.6,310.3L1298.6,310.4L1298.6,284.9L1299.6,282.4L1299.6,310.9L1300.6,312.6L1300.6,281.4L1301.6,281.2L1301.6,344.4L1302.6,380.4L1302.6,282.2L1303.6,282.7L1303.6,399.9L1304.6,401.9L1304.6,282.8L1305.6,282.5L1305.6,403.7L1306.6,373.6L1306.6,281.7L1307.6,279.5L1307.6,359.6L1308.6,345.6L1308.6,276.8L1309.6,275.0L1309.6,340.0L1310.6,339.1L1310.6,274.2L1311.6,274.5L1311.6,338.9L1312.6,338.8L1312.6,285.0L1313.6,292.5L1313.6,338.8L1314.6,338.9L1314.6,293.1L1315.6,293.3L1315.6,339.5L1316.6,340.9L1316.6,293.1L1317.6,292.5L1317.6,374.6L1318.6,376.7L1318.6,290.7L1319.6,271.7L1319.6,357.7L1320.6,296.7L1320.6,259.3L1321.6,252.6L1321.6,295.6L1322.6,294.8L1322.6,249.5L1323.6,256.3L1323.6,294.1L1324.6,293.4L1324.6,258.0L1325.6,258.5L1325.6,292.7L1326.6,292.1L1326.6,258.6L1327.6,258.3L1327.6,291.5L1328.6,282.4L1328.6,257.8L1329.6,257.3L1329.6,276.8L1330.6,275.9L1330.6,256.8L1331.6,255.9L1331.6,275.7L1332.6,275.6L1332.6,252.2L1333.6,246.2L1333.6,275.6L1334.6,275.6L1334.6,241.6L1335.6,242.6L1335.6,275.7L1336.6,276.3L1336.6,243.6L1337.6,244.5L1337.6,277.5L1338.6,286.5L1338.6,244.9L1339.6,244.9L1339.6,298.0L1340.6,312.0L1340.6,244.5L1341.6,243.5L1341.6,306.1L1342.6,284.1L1342.6,242.3L1343.6,241.2L1343.6,254.1L1344.6,252.0L1344.6,240.0L1345.6,238.8L1345.6,251.0L1346.6,250.0L1346.6,237.6L1347.6,236.3L1347.6,249.0L1348.6,248.1L1348.6,234.9L1349.6,233.6L1349.6,247.5L1350.6,247.4L1350.6,232.3L1351.6,231.2L1351.6,247.4L1352.6,241.9L1352.6,230.2L1353.6,229.0L1353.6,235.2L1354.6,234.1L1354.6,213.7L1355.6,210.7L1355.6,233.7L1356.6,233.5L1356.6,209.7L1357.6,208.5L1357.6,233.2L1358.6,233.0L1358.6,198.6L1359.6,196.6L1359.6,233.0L1360.6,233.3L1360.6,195.8L1361.6,195.0L1361.6,234.2L1362.6,236.3L1362.6,193.3L1363.6,179.4L1363.6,238.7L1364.6,239.6L1364.6,155.6L1365.6,103.8L1365.6,239.8L1366.6,239.4L1366.6,82.4L1367.6,81.8L1367.6,232.6L1368.6,218.6L1368.6,82.5L1369.6,114.4L1369.6,216.7L1370.6,216.0L1370.6,134.4L1371.6,135.9L1371.6,215.5L1372.6,215.0L1372.6,137.4L1373.6,141.4L1373.6,214.5L1374.6,214.3L1374.6,159.4L1375.6,168.5L1375.6,214.3L1376.6,214.3L1376.6,169.3L1377.6,169.6L1377.6,214.3L1378.6,214.3L1378.6,169.6L1379.6,169.6L1379.6,214.3L1380.6,214.6L1380.6,169.6L1381.6,169.6L1381.6,215.5L1382.6,218.5L1382.6,169.6L1383.6,169.6L1383.6,223.1L1384.6,227.8L1384.6,170.0L1385.6,171.5L1385.6,258.4L1386.6,257.9L1386.6,178.0L1387.6,200.0L1387.6,247.9L1388.6,242.9L1388.6,206.9L1389.6,207.5L1389.6,242.0L1390.6,241.8L1390.6,207.7L1391.6,207.5L1391.6,241.8L1392.6,241.8L1392.6,206.9L1393.6,192.7L1393.6,241.8L1394.6,241.8L1394.6,126.3L1395.6,125.5L1395.6,241.9L1396.6,242.6L1396.6,125.4L1397.6,126.4L1397.6,249.6L1398.6,305.4L1398.6,198.7L1399.6,199.9L1399.6,306.9L1400.6,308.4L1400.6,200.2L1401.6,200.3L1401.6,310.6L1402.6,319.9L1402.6,200.3L1403.6,200.3L1403.6,328.6L1404.6,313.6L1404.6,200.1L1405.6,199.4L1405.6,304.2L1406.6,297.5L1406.6,195.0L1407.6,183.1L1407.6,291.8L1408.6,290.6L1408.6,182.0L1409.6,180.9L1409.6,290.0L1410.6,289.5L1410.6,179.8L1411.6,178.7L1411.6,288.9L1412.6,288.3L1412.6,177.6L1413.6,176.5L1413.6,287.7L1414.6,287.2L1414.6,177.1L1415.6,265.5L1415.6,287.0L1416.6,287.2L1416.6,266.6L1417.6,267.0L1417.6,287.9L1418.6,289.5L1418.6,267.0L1419.6,266.9L1419.6,293.0L1420.6,296.5L1420.6,266.7L1421.6,266.6L1421.6,296.3L1422.6,291.3L1422.6,266.4L1423.6,266.3L1423.6,289.6L1424.6,289.1L1424.6,266.0L1425.6,265.3L1425.6,289.0L1426.6,289.3L1426.6,264.6L1427.6,263.8L1427.6,290.1L1428.6,304.0L1428.6,263.1L1429.6,262.3L1429.6,317.2L1430.6,318.5L1430.6,261.6L1431.6,260.8L1431.6,307.2L1432.6,295.2L1432.6,259.1L1433.6,250.3L1433.6,293.9L1434.6,293.4L1434.6,251.6L1435.6,252.9L1435.6,293.0L1436.6,292.3L1436.6,253.8L1437.6,254.4L1437.6,283.3L1438.6,278.4L1438.6,255.0L1439.6,255.5L1439.6,277.5L1440.6,277.3L1440.6,256.1L1441.6,263.6L1441.6,277.3L1442.6,277.3L1442.6,264.9L1443.6,266.1L1443.6,277.3L1444.6,277.7L1444.6,267.2L1445.6,268.4L1445.6,278.8L1446.6,332.3L1446.6,287.9L1447.6,302.7L1447.6,345.0L1448.6,340.3L1448.6,303.5L1449.6,303.8L1449.6,335.3L1450.6,334.2L1450.6,303.8L1451.6,303.8L1451.6,333.8L1452.6,333.5L1452.6,303.8L1453.6,303.7L1453.6,333.3L1454.6,333.0L1454.6,303.2L1455.6,301.5L1455.6,332.8L1456.6,332.5L1456.6,287.9L1457.6,287.3L1457.6,332.3L1458.6,332.1L1458.6,286.6L1459.6,285.9L1459.6,332.2L1460.6,332.3L1460.6,285.1L1461.6,277.9L1461.6,332.4L1462.6,332.6L1462.6,268.7L1463.6,284.7L1463.6,332.7L1464.6,332.8L1464.6,286.4L1465.6,286.9L1465.6,332.9L1466.6,333.1L1466.6,287.5L1467.6,288.0L1467.6,333.7L1468.6,339.0L1468.6,328.3L1469.6,336.9L1469.6,382.0L1470.6,376.3L1470.6,337.6L1471.6,337.9L1471.6,370.3L1472.6,360.4L1472.6,338.2L1473.6,338.6L1473.6,348.9L1474.6,347.2L1474.6,338.9L1475.6,339.2L1475.6,346.7L1476.6,346.5L1476.6,339.3L1477.6,339.0L1477.6,346.3L1478.6,346.0L1478.6,338.4L1479.6,337.9L1479.6,345.8L1480.6,345.6L1480.6,337.3L1481.6,336.8L1481.6,345.4L1482.6,345.2L1482.6,336.2L1483.6,335.7L1483.6,345.1L1484.6,345.3L1484.6,335.1L1485.6,334.3L1485.6,345.9L1486.6,348.3L1486.6,331.6L1487.6,326.6L1487.6,351.8L1488.6,355.3L1488.6,326.3L1489.6,326.0L1489.6,358.7L1490.6,361.9L1490.6,325.7L1491.6,325.4L1491.6,365.1L1492.6,368.3L1492.6,325.1L1493.6,324.8L1493.6,369.9L1494.6,370.2L1494.6,324.4L1495.6,323.3L1495.6,370.5L1496.6,370.7L1496.6,317.2L1497.6,308.2L1497.6,371.1L1498.6,371.9L1498.6,301.4L1499.6,302.1L1499.6,374.6L1500.6,378.6L1500.6,303.7L1501.6,310.6L1501.6,382.2L1502.6,381.9L1502.6,314.2L1503.6,314.9L1503.6,381.1L1504.6,380.6L1504.6,315.1L1505.6,314.9L1505.6,380.5L1506.6,380.8L1506.6,314.4L1507.6,313.9L1507.6,381.6L1508.6,390.2L1508.6,313.4L1509.6,329.8L1509.6,405.2L1510.6,407.5L1510.6,331.4L1511.6,332.0L1511.6,407.3L1512.6,401.4L1512.6,332.2L1513.6,332.4L1513.6,391.3L1514.6,390.5L1514.6,332.6L1515.6,333.3L1515.6,390.1L1516.6,389.8L1516.6,333.9L1517.6,334.6L1517.6,389.5L1518.6,389.1L1518.6,335.3L1519.6,335.8L1519.6,388.3L1520.6,387.1L1520.6,336.0L1521.6,335.8L1521.6,385.9L1522.6,384.7L1522.6,335.2L1523.6,327.2L1523.6,384.1L1524.6,383.9L1524.6,301.1L1525.6,300.4L1525.6,384.1L1526.6,384.7L1526.6,301.3L1527.6,343.5L1527.6,386.5L1528.6,390.5L1528.6,348.9L1529.6,353.1L1529.6,393.3L1530.6,395.3L1530.6,354.2L1531.6,354.5L1531.6,397.2L1532.6,399.0L1532.6,354.5L1533.6,354.2L1533.6,400.9L1534.6,401.0L1534.6,353.8L1535.6,353.4L1535.6,399.3L1536.6,397.6L1536.6,353.0L1537.6,352.5L1537.6,396.5L1538.6,395.9L1538.6,351.2L1539.6,347.8L1539.6,395.8L1540.6,395.8L1540.6,346.7L1541.6,357.3L1541.6,395.8L1542.6,395.8L1542.6,361.3L1543.6,363.1L1543.6,395.8L1544.6,395.8L1544.6,364.8L1545.6,366.1L1545.6,395.8L1546.6,395.8L1546.6,366.6L1547.6,366.7L1547.6,395.8L1548.6,395.8L1548.6,366.5L1549.6,366.3L1549.6,395.8L1550.6,394.9L1550.6,366.0L1551.6,365.7L1551.6,393.5L1552.6,392.1L1552.6,364.9L1553.6,358.4L1553.6,380.9L1554.6,372.3L1554.6,344.7L1555.6,334.2L1555.6,371.2L1556.6,370.8L1556.6,334.3L1557.6,343.5L1557.6,370.6L1558.6,370.3L1558.6,345.1L1559.6,345.6L1559.6,370.1L1560.6,370.1L1560.6,345.7L1561.6,345.5L1561.6,370.5L1562.6,371.6L1562.6,345.3L1563.6,346.3L1563.6,391.6L1564.6,398.3L1564.6,358.6L1565.6,362.7L1565.6,400.0L1566.6,401.7L1566.6,363.4L1567.6,363.7L1567.6,403.3L1568.6,404.1L1568.6,364.0L1569.6,364.4L1569.6,404.6L1570.6,405.1L1570.6,365.1L1571.6,367.1L1571.6,406.3L1572.6,409.5L1572.6,377.3L1573.6,393.3L1573.6,412.8L1574.6,413.4L1574.6,395.0L1575.6,395.5L1575.6,412.0L1576.6,410.6L1576.6,395.7L1577.6,395.5L1577.6,409.4L1578.6,408.2L1578.6,395.0L1579.6,394.5L1579.6,407.0L1580.6,401.1L1580.6,394.0L1581.6,395.0L1582.6,394.1L1583.6,383.0L1583.6,388.0L1584.6,387.9L1584.6,383.0L1585.6,383.8L1585.6,388.2L1586.6,389.0L1586.6,384.7L1587.6,385.5L1587.6,393.4L1588.6,403.4L1588.6,386.3L1589.6,387.1L1589.6,406.0L1590.6,407.3L1590.6,387.9L1591.6,388.7L1591.6,408.2L1592.6,407.4L1592.6,389.2L1593.6,389.3L1593.6,406.3L1594.6,405.1L1594.6,389.3L1595.6,389.3L1595.6,403.9L1596.6,402.7L1596.6,389.2L1597.6,388.5L1597.6,401.9L1598.6,401.6L1598.6,384.6L1599.6,371.6L1599.6,401.7L1600.6,402.2L1600.6,371.0L1601.6,371.1L1601.6,403.4L1602.6,406.1L1602.6,371.3L1603.6,371.5L1603.6,408.7L1604.6,407.3L1604.6,371.6L1605.6,371.4L1605.6,405.9L1606.6,405.1L1606.6,370.7L1607.6,368.3L1607.6,404.8L1608.6,404.9L1608.6,364.3L1609.6,360.6L1609.6,405.4L1610.6,406.9L1610.6,359.7L1611.6,359.8L1611.6,409.4L1612.6,411.9L1612.6,367.8L1613.6,386.2L1613.6,414.0L1614.6,414.7L1614.6,387.4L1615.6,387.8L1615.6,415.0L1616.6,414.8L1616.6,388.1L1617.6,388.4L1617.6,414.7L1618.6,414.6L1618.6,388.4L1619.6,388.0L1619.6,414.4L1620.6,414.5L1620.6,387.1L1621.6,380.4L1621.6,415.0L1622.6,416.7L1622.6,389.1L1623.6,395.0L1623.6,426.7L1624.6,431.1L1624.6,395.6L1625.6,396.1L1625.6,415.9L1626.6,414.8L1626.6,396.6L1627.6,397.1L1627.6,414.4L1628.6,414.4L1628.6,397.3L1629.6,397.2L1629.6,414.4L1630.6,414.4L1630.6,396.7L1631.6,395.0L1631.6,414.4L1632.6,414.4L1632.6,392.0L1633.6,391.3L1633.6,414.4L1634.6,413.4L1634.6,391.5L1635.6,391.9L1635.6,412.1L1636.6,411.5L1636.6,392.3L1637.6,392.5L1637.6,411.3L1638.6,411.5L1638.6,392.4L1639.6,391.9L1639.6,412.1L1640.6,414.1L1640.6,391.8L1641.6,395.6L1641.6,418.1L1642.6,421.9L1642.6,407.2L1643.6,408.3L1643.6,422.5L1644.6,423.1L1644.6,408.7L1645.6,409.1L1645.6,423.7L1646.6,424.8L1646.6,409.4L1647.6,409.7L1647.6,427.4L1648.6,430.2L1648.6,410.1L1649.6,410.3L1649.6,432.9L1650.6,434.3L1650.6,410.1L1651.6,409.4L1651.6,433.6L1652.6,431.1L1652.6,407.6L1653.6,399.6L1653.6,426.4L1654.6,422.4L1654.6,391.0L1655.6,381.6L1655.6,421.3L1656.6,420.9L1656.6,373.1L1657.6,372.3L1657.6,420.9L1658.6,421.3L1658.6,375.4L1659.6,382.3L1659.6,421.9L1660.6,422.5L1660.6,383.4L1661.6,384.0L1661.6,423.0L1662.6,423.6L1662.6,384.6L1663.6,396.5L1663.6,424.2L1664.6,424.9L1664.6,409.2L1665.6,410.0L1665.6,426.9L1666.6,430.2L1666.6,410.3L1667.6,410.3L1667.6,433.5L1668.6,434.4L1668.6,410.3L1669.6,410.3L1669.6,433.6L1670.6,432.3L1670.6,410.3L1671.6,410.1L1671.6,430.3L1672.6,428.5L1672.6,409.5L1673.6,405.8L1673.6,427.6L1674.6,427.3L1674.6,386.3L1675.6,385.6L1675.6,427.4L1676.6,427.9L1676.6,399.8L1677.6,409.5L1677.6,428.5L1678.6,429.1L1678.6,410.9L1679.6,412.3L1679.6,429.5L1680.6,429.2L1680.6,413.8L1681.6,415.2L1681.6,429.0L1682.6,429.1L1682.6,416.6L1683.6,417.7L1683.6,429.4L1684.6,430.5L1684.6,418.1L1685.6,418.1L1685.6,433.0L1686.6,435.5L1686.6,417.7L1687.6,416.6L1687.6,438.0L1688.6,437.4L1688.6,410.0L1689.6,399.2L1689.6,432.7L1690.6,428.0L1690.6,398.4L1691.6,397.6L1691.6,426.1L1692.6,424.6L1692.6,398.6L1693.6,405.2L1693.6,423.1L1694.6,421.7L1694.6,409.5L1695.6,410.1L1695.6,421.1L1696.6,420.9L1696.6,410.4L1697.6,410.5L1697.6,421.1L1698.6,421.7L1698.6,410.7L1699.6,410.9L1699.6,424.5L1700.6,429.8L1700.6,411.8L1701.6,413.0L1701.6,434.6L1702.6,434.9L1702.6,414.2L1703.6,414.9L1703.6,434.1L1704.6,433.3L1704.6,415.1L1705.6,414.9L1705.6,430.8L1706.6,428.0L1706.6,414.2L1707.6,412.4L1707.6,425.2L1708.6,422.4L1708.6,409.8L1709.6,407.3L1709.6,421.3L1710.6,420.9L1710.6,406.3L1711.6,405.3L1711.6,420.9L1712.6,421.3L1712.6,404.4L1713.6,404.1L1713.6,422.2L1714.6,423.2L1714.6,403.9L1715.6,403.6L1715.6,424.2L1716.6,425.2L1716.6,403.4L1717.6,403.6L1717.6,426.2L1718.6,427.2L1718.6,404.3L1719.6,405.0L1719.6,428.2L1720.6,429.2L1720.6,405.7L1721.6,406.9L1721.6,430.4L1722.6,439.9L1722.6,408.2L1723.6,409.4L1723.6,450.9L1724.6,451.4L1724.6,410.1L1725.6,410.3L1725.6,451.9" fill="none" stroke="#ff0000" stroke-width="6" stroke-linejoin="round" stroke-linecap="round"/>
<path d="M992.2,424L992.2,454.3" fill="none" stroke="#ff0000" stroke-width="6" stroke-linecap="round"/>
<path d="M995.5,559.0L1008.4,557.8L1016.4,568.1L1020.2,551.9L1026.7,556.2L1034.2,549.8L1040.7,563.8L1050.4,567.0L1055.8,551.9L1059.0,563.8L1065.4,559.5L1074.0,563.8L1078.3,551.9L1086.9,557.3L1099.9,545.5L1105.2,556.2L1119.2,555.2L1124.6,544.4L1132.1,557.3L1138.6,555.2L1145.0,558.4L1149.3,555.2L1153.7,539.0L1158.0,553.0L1169.8,554.1L1178.4,528.3L1183.8,539.0L1192.4,546.6L1201.0,538.0L1207.4,522.9L1218.2,524.0L1223.6,521.8L1227.9,533.7L1232.2,513.2L1238.6,516.4L1240.8,522.9L1249.4,520.7L1252.6,551.9L1259.1,553.0L1261.2,531.5L1272.0,527.2L1280.6,546.6L1287.1,539.0L1295.7,555.2L1304.3,531.5L1310.7,557.3L1319.3,544.4L1330.1,556.2L1340.8,548.7L1353.8,556.2L1361.5,546.6L1372.3,549.8L1385.2,557.3L1402.4,554.1L1413.2,560.5L1428.2,547.6L1432.5,551.9L1443.3,546.6L1445.4,555.2L1451.9,543.3L1457.3,556.2L1462.6,543.3L1469.1,547.6L1475.6,557.3L1482.0,549.8L1486.3,553.0L1496.0,545.5L1505.7,549.8L1516.4,558.4L1526.1,550.9L1529.3,555.2L1535.8,551.9L1542.3,557.3L1555.2,554.1L1563.8,550.9L1569.2,557.3L1576.7,549.8L1588.5,545.5L1596.1,553.0L1603.6,557.3L1609.0,544.4L1614.3,551.9L1624.0,559.5L1634.8,551.9L1642.3,545.5L1646.6,559.5L1652.0,550.9L1661.7,563.8L1671.4,551.9L1677.8,560.5L1684.3,559.5L1688.6,547.6L1695.0,547.6L1705.8,554.1L1713.3,559.5L1721.9,557.3" fill="none" stroke="#000" stroke-width="6.6" stroke-linejoin="round" stroke-linecap="butt"/>
<g stroke="#000" stroke-width="8" stroke-linecap="round">
<line x1="1226.4" y1="79.0" x2="1226.4" y2="101.0"/>
<line x1="1226.4" y1="136.9" x2="1226.4" y2="159.4"/>
<line x1="1226.4" y1="195.3" x2="1226.4" y2="217.8"/>
<line x1="1226.4" y1="253.7" x2="1226.4" y2="276.2"/>
<line x1="1226.4" y1="312.1" x2="1226.4" y2="334.6"/>
<line x1="1226.4" y1="370.5" x2="1226.4" y2="393.0"/>
<line x1="1226.4" y1="428.9" x2="1226.4" y2="451.4"/>
<line x1="1226.4" y1="487.3" x2="1226.4" y2="509.8"/>
<line x1="1226.4" y1="545.7" x2="1226.4" y2="568.2"/>
<line x1="1226.4" y1="604.1" x2="1226.4" y2="617.3"/>
</g>
<g stroke="#ff0000" stroke-width="7.5" stroke-linecap="round">
<line x1="1256.5" y1="81.8" x2="1256.5" y2="109.8"/>
<line x1="1256.5" y1="132.2" x2="1256.5" y2="133.4"/>
<line x1="1256.5" y1="155.4" x2="1256.5" y2="183.4"/>
<line x1="1256.5" y1="205.8" x2="1256.5" y2="207.0"/>
<line x1="1256.5" y1="229.0" x2="1256.5" y2="257.0"/>
<line x1="1256.5" y1="279.4" x2="1256.5" y2="280.6"/>
<line x1="1256.5" y1="302.6" x2="1256.5" y2="330.6"/>
<line x1="1256.5" y1="353.0" x2="1256.5" y2="354.2"/>
<line x1="1256.5" y1="376.2" x2="1256.5" y2="404.2"/>
<line x1="1256.5" y1="426.6" x2="1256.5" y2="427.8"/>
<line x1="1256.5" y1="449.8" x2="1256.5" y2="477.8"/>
<line x1="1256.5" y1="500.2" x2="1256.5" y2="501.4"/>
<line x1="1256.5" y1="523.4" x2="1256.5" y2="551.4"/>
<line x1="1256.5" y1="573.8" x2="1256.5" y2="575.0"/>
<line x1="1256.5" y1="597.0" x2="1256.5" y2="619.3"/>
</g>
<g stroke="#ff0000" stroke-linecap="round">
<line x1="1367.6" y1="84.0" x2="1367.6" y2="99.3" stroke-width="8.4"/>
<line x1="1367.6" y1="114.2" x2="1367.6" y2="115.2" stroke-width="5"/>
<line x1="1367.6" y1="130.1" x2="1367.6" y2="145.4" stroke-width="8.4"/>
<line x1="1367.6" y1="160.3" x2="1367.6" y2="161.3" stroke-width="5"/>
<line x1="1367.6" y1="176.3" x2="1367.6" y2="191.6" stroke-width="8.4"/>
<line x1="1367.6" y1="206.5" x2="1367.6" y2="207.5" stroke-width="5"/>
<line x1="1367.6" y1="222.4" x2="1367.6" y2="237.7" stroke-width="8.4"/>
<line x1="1367.6" y1="252.6" x2="1367.6" y2="253.6" stroke-width="5"/>
<line x1="1367.6" y1="268.6" x2="1367.6" y2="283.9" stroke-width="8.4"/>
<line x1="1367.6" y1="298.8" x2="1367.6" y2="299.8" stroke-width="5"/>
<line x1="1367.6" y1="314.7" x2="1367.6" y2="330.0" stroke-width="8.4"/>
<line x1="1367.6" y1="344.9" x2="1367.6" y2="345.9" stroke-width="5"/>
<line x1="1367.6" y1="360.8" x2="1367.6" y2="376.1" stroke-width="8.4"/>
<line x1="1367.6" y1="391.0" x2="1367.6" y2="392.0" stroke-width="5"/>
<line x1="1367.6" y1="407.0" x2="1367.6" y2="422.3" stroke-width="8.4"/>
<line x1="1367.6" y1="437.2" x2="1367.6" y2="438.2" stroke-width="5"/>
<line x1="1367.6" y1="453.1" x2="1367.6" y2="468.4" stroke-width="8.4"/>
<line x1="1367.6" y1="483.3" x2="1367.6" y2="484.3" stroke-width="5"/>
<line x1="1367.6" y1="499.3" x2="1367.6" y2="514.6" stroke-width="8.4"/>
<line x1="1367.6" y1="529.5" x2="1367.6" y2="530.5" stroke-width="5"/>
<line x1="1367.6" y1="545.4" x2="1367.6" y2="560.7" stroke-width="8.4"/>
<line x1="1367.6" y1="575.6" x2="1367.6" y2="576.6" stroke-width="5"/>
<line x1="1367.6" y1="591.5" x2="1367.6" y2="604.8" stroke-width="8.4"/>
</g>
<g font-size="56.8" text-anchor="middle">
<text transform="translate(991.60,682.9) scale(1.022,1)">27.0</text>
<text transform="translate(1114.05,682.9) scale(1.022,1)">27.5</text>
<text transform="translate(1236.50,682.9) scale(1.022,1)">28.0</text>
<text transform="translate(1358.95,682.9) scale(1.022,1)">28.5</text>
<text transform="translate(1481.40,682.9) scale(1.022,1)">29.0</text>
<text transform="translate(1603.85,682.9) scale(1.022,1)">29.5</text>
<text transform="translate(1726.30,682.9) scale(1.022,1)">30.0</text>
</g>
<text transform="translate(940,367.8) rotate(-90) scale(0.99,1)" font-size="69" text-anchor="middle">Intensity (a.u.)</text>
</svg>
</body></html>
